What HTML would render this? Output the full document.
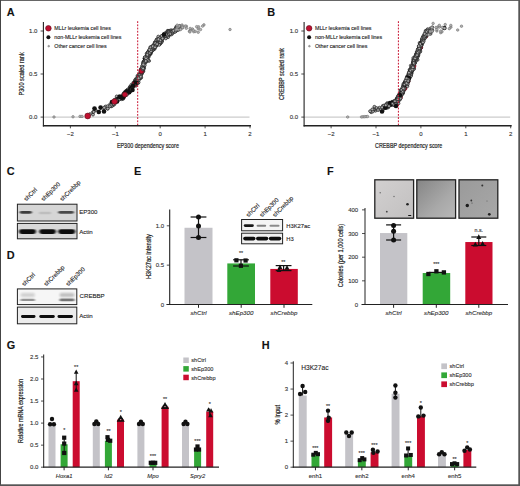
<!DOCTYPE html>
<html><head><meta charset="utf-8"><title>Figure</title>
<style>
html,body{margin:0;padding:0;background:#fff;}
body{width:520px;height:486px;overflow:hidden;font-family:'Liberation Sans', sans-serif;}
svg{display:block;}
svg text{font-family:'Liberation Sans',sans-serif;stroke:#333;stroke-width:0.12px;}
</style></head><body>
<svg width="520" height="486" viewBox="0 0 520 486">
<rect x="0" y="0" width="520" height="486" fill="#ffffff"/>
<text x="6.70" y="16.10" font-size="10.9" text-anchor="start" font-weight="bold" font-style="normal" fill="#111" >A</text>
<text x="267.20" y="16.10" font-size="10.9" text-anchor="start" font-weight="bold" font-style="normal" fill="#111" >B</text>
<text x="6.80" y="174.80" font-size="10.9" text-anchor="start" font-weight="bold" font-style="normal" fill="#111" >C</text>
<text x="6.80" y="258.70" font-size="10.9" text-anchor="start" font-weight="bold" font-style="normal" fill="#111" >D</text>
<text x="134.00" y="174.80" font-size="10.9" text-anchor="start" font-weight="bold" font-style="normal" fill="#111" >E</text>
<text x="327.00" y="174.80" font-size="10.9" text-anchor="start" font-weight="bold" font-style="normal" fill="#111" >F</text>
<text x="6.80" y="348.60" font-size="10.9" text-anchor="start" font-weight="bold" font-style="normal" fill="#111" >G</text>
<text x="261.80" y="348.60" font-size="10.9" text-anchor="start" font-weight="bold" font-style="normal" fill="#111" >H</text>
<line x1="43.40" y1="117.10" x2="249.50" y2="117.10" stroke="#b8b8b8" stroke-width="0.9" />
<g fill="#adadad" stroke="#202020" stroke-width="0.7"><circle cx="169.8" cy="33.9" r="1.45"/><circle cx="123.7" cy="93.3" r="1.45"/><circle cx="176.3" cy="26.7" r="1.45"/><circle cx="153.2" cy="48.9" r="1.45"/><circle cx="137.4" cy="82.2" r="1.45"/><circle cx="145.7" cy="59.3" r="1.45"/><circle cx="161.6" cy="39.5" r="1.45"/><circle cx="139.6" cy="75.5" r="1.45"/><circle cx="151.3" cy="50.2" r="1.45"/><circle cx="145.8" cy="57.4" r="1.45"/><circle cx="141.9" cy="73.7" r="1.45"/><circle cx="156.9" cy="44.5" r="1.45"/><circle cx="167.8" cy="30.8" r="1.45"/><circle cx="121.7" cy="99.2" r="1.45"/><circle cx="133.4" cy="82.6" r="1.45"/><circle cx="136.1" cy="83.5" r="1.45"/><circle cx="143.3" cy="66.6" r="1.45"/><circle cx="155.5" cy="43.9" r="1.45"/><circle cx="105.6" cy="106.5" r="1.45"/><circle cx="128.2" cy="92.1" r="1.45"/><circle cx="149.3" cy="50.7" r="1.45"/><circle cx="147.8" cy="54.4" r="1.45"/><circle cx="152.1" cy="48.4" r="1.45"/><circle cx="156.3" cy="45.1" r="1.45"/><circle cx="152.9" cy="46.6" r="1.45"/><circle cx="150.6" cy="52.6" r="1.45"/><circle cx="161.8" cy="36.5" r="1.45"/><circle cx="157.6" cy="41.7" r="1.45"/><circle cx="114.6" cy="99.7" r="1.45"/><circle cx="129.0" cy="90.2" r="1.45"/><circle cx="172.2" cy="32.5" r="1.45"/><circle cx="170.5" cy="30.8" r="1.45"/><circle cx="121.3" cy="97.2" r="1.45"/><circle cx="116.4" cy="101.3" r="1.45"/><circle cx="167.5" cy="34.0" r="1.45"/><circle cx="171.3" cy="31.6" r="1.45"/><circle cx="149.8" cy="49.8" r="1.45"/><circle cx="138.6" cy="79.6" r="1.45"/><circle cx="136.8" cy="81.3" r="1.45"/><circle cx="137.7" cy="81.1" r="1.45"/><circle cx="136.1" cy="83.2" r="1.45"/><circle cx="144.1" cy="63.0" r="1.45"/><circle cx="150.3" cy="50.8" r="1.45"/><circle cx="156.5" cy="42.0" r="1.45"/><circle cx="162.2" cy="38.8" r="1.45"/><circle cx="142.7" cy="67.7" r="1.45"/><circle cx="130.6" cy="89.4" r="1.45"/><circle cx="140.4" cy="72.9" r="1.45"/><circle cx="119.2" cy="97.0" r="1.45"/><circle cx="138.1" cy="78.2" r="1.45"/><circle cx="130.3" cy="86.5" r="1.45"/><circle cx="146.1" cy="58.9" r="1.45"/><circle cx="163.6" cy="36.4" r="1.45"/><circle cx="143.8" cy="61.2" r="1.45"/><circle cx="140.5" cy="77.9" r="1.45"/><circle cx="160.1" cy="38.1" r="1.45"/><circle cx="161.4" cy="37.7" r="1.45"/><circle cx="139.1" cy="74.2" r="1.45"/><circle cx="160.1" cy="38.0" r="1.45"/><circle cx="132.9" cy="85.4" r="1.45"/><circle cx="139.1" cy="77.1" r="1.45"/><circle cx="172.4" cy="31.4" r="1.45"/><circle cx="142.7" cy="68.4" r="1.45"/><circle cx="152.3" cy="46.8" r="1.45"/><circle cx="142.9" cy="68.3" r="1.45"/><circle cx="172.7" cy="31.9" r="1.45"/><circle cx="137.5" cy="75.8" r="1.45"/><circle cx="177.9" cy="29.4" r="1.45"/><circle cx="136.4" cy="84.3" r="1.45"/><circle cx="117.0" cy="100.1" r="1.45"/><circle cx="156.0" cy="42.9" r="1.45"/><circle cx="169.7" cy="32.8" r="1.45"/><circle cx="155.1" cy="42.7" r="1.45"/><circle cx="95.7" cy="110.2" r="1.45"/><circle cx="104.2" cy="107.6" r="1.45"/><circle cx="154.8" cy="44.7" r="1.45"/><circle cx="157.3" cy="39.7" r="1.45"/><circle cx="124.4" cy="93.0" r="1.45"/><circle cx="119.5" cy="97.3" r="1.45"/><circle cx="148.7" cy="51.0" r="1.45"/><circle cx="160.9" cy="39.6" r="1.45"/><circle cx="113.4" cy="104.5" r="1.45"/><circle cx="141.4" cy="73.9" r="1.45"/><circle cx="146.9" cy="58.1" r="1.45"/><circle cx="149.1" cy="60.9" r="1.45"/><circle cx="163.7" cy="36.4" r="1.45"/><circle cx="147.9" cy="56.0" r="1.45"/><circle cx="141.9" cy="71.0" r="1.45"/><circle cx="144.3" cy="64.2" r="1.45"/><circle cx="150.4" cy="52.6" r="1.45"/><circle cx="125.8" cy="93.7" r="1.45"/><circle cx="154.1" cy="49.2" r="1.45"/><circle cx="148.8" cy="56.8" r="1.45"/><circle cx="160.0" cy="39.3" r="1.45"/><circle cx="150.4" cy="50.0" r="1.45"/><circle cx="167.3" cy="31.4" r="1.45"/><circle cx="144.4" cy="62.5" r="1.45"/><circle cx="175.0" cy="29.7" r="1.45"/><circle cx="171.9" cy="31.5" r="1.45"/><circle cx="135.8" cy="84.2" r="1.45"/><circle cx="169.0" cy="33.0" r="1.45"/><circle cx="146.6" cy="53.8" r="1.45"/><circle cx="135.0" cy="80.1" r="1.45"/><circle cx="160.7" cy="37.5" r="1.45"/><circle cx="167.3" cy="32.2" r="1.45"/><circle cx="157.4" cy="43.8" r="1.45"/><circle cx="149.7" cy="52.5" r="1.45"/><circle cx="156.7" cy="40.1" r="1.45"/><circle cx="135.9" cy="78.9" r="1.45"/><circle cx="145.3" cy="61.2" r="1.45"/><circle cx="151.5" cy="51.2" r="1.45"/><circle cx="159.9" cy="39.9" r="1.45"/><circle cx="113.9" cy="103.0" r="1.45"/><circle cx="123.1" cy="98.9" r="1.45"/><circle cx="150.4" cy="49.9" r="1.45"/><circle cx="144.8" cy="58.5" r="1.45"/><circle cx="136.4" cy="79.6" r="1.45"/><circle cx="168.9" cy="35.5" r="1.45"/><circle cx="143.4" cy="71.2" r="1.45"/><circle cx="149.0" cy="52.2" r="1.45"/><circle cx="122.6" cy="97.9" r="1.45"/><circle cx="152.8" cy="50.0" r="1.45"/><circle cx="158.3" cy="41.4" r="1.45"/><circle cx="122.6" cy="95.3" r="1.45"/><circle cx="160.3" cy="43.7" r="1.45"/><circle cx="172.5" cy="32.1" r="1.45"/><circle cx="166.3" cy="35.3" r="1.45"/><circle cx="162.7" cy="37.9" r="1.45"/><circle cx="144.2" cy="61.7" r="1.45"/><circle cx="176.0" cy="29.0" r="1.45"/><circle cx="154.2" cy="44.3" r="1.45"/><circle cx="168.9" cy="34.7" r="1.45"/><circle cx="179.8" cy="28.4" r="1.45"/><circle cx="172.4" cy="33.1" r="1.45"/><circle cx="147.3" cy="57.9" r="1.45"/><circle cx="160.8" cy="39.3" r="1.45"/><circle cx="160.6" cy="39.4" r="1.45"/><circle cx="137.8" cy="81.2" r="1.45"/><circle cx="144.2" cy="62.3" r="1.45"/><circle cx="144.7" cy="60.4" r="1.45"/><circle cx="156.3" cy="43.2" r="1.45"/><circle cx="170.9" cy="33.2" r="1.45"/><circle cx="147.9" cy="54.3" r="1.45"/><circle cx="150.2" cy="49.1" r="1.45"/><circle cx="138.2" cy="83.0" r="1.45"/><circle cx="146.9" cy="56.4" r="1.45"/><circle cx="165.6" cy="33.6" r="1.45"/><circle cx="143.0" cy="62.4" r="1.45"/><circle cx="150.2" cy="48.9" r="1.45"/><circle cx="150.1" cy="50.9" r="1.45"/><circle cx="131.5" cy="87.6" r="1.45"/><circle cx="115.1" cy="100.0" r="1.45"/><circle cx="167.1" cy="34.3" r="1.45"/><circle cx="179.6" cy="25.9" r="1.45"/><circle cx="143.3" cy="64.6" r="1.45"/><circle cx="169.2" cy="31.0" r="1.45"/><circle cx="127.5" cy="92.0" r="1.45"/><circle cx="146.0" cy="60.1" r="1.45"/><circle cx="165.5" cy="36.2" r="1.45"/><circle cx="141.4" cy="71.0" r="1.45"/><circle cx="139.9" cy="75.6" r="1.45"/><circle cx="167.3" cy="36.7" r="1.45"/><circle cx="151.9" cy="49.5" r="1.45"/><circle cx="129.9" cy="89.8" r="1.45"/><circle cx="157.1" cy="41.1" r="1.45"/><circle cx="139.8" cy="77.7" r="1.45"/><circle cx="127.1" cy="92.1" r="1.45"/><circle cx="111.1" cy="106.4" r="1.45"/><circle cx="150.6" cy="50.4" r="1.45"/><circle cx="142.9" cy="69.9" r="1.45"/><circle cx="160.9" cy="38.1" r="1.45"/><circle cx="122.9" cy="97.9" r="1.45"/><circle cx="158.7" cy="39.3" r="1.45"/><circle cx="150.8" cy="53.7" r="1.45"/><circle cx="137.4" cy="81.1" r="1.45"/><circle cx="141.5" cy="69.4" r="1.45"/><circle cx="168.3" cy="32.7" r="1.45"/><circle cx="127.8" cy="89.7" r="1.45"/><circle cx="150.0" cy="53.6" r="1.45"/><circle cx="168.8" cy="33.2" r="1.45"/><circle cx="136.9" cy="81.2" r="1.45"/><circle cx="155.0" cy="42.3" r="1.45"/><circle cx="148.3" cy="53.9" r="1.45"/><circle cx="157.0" cy="39.1" r="1.45"/><circle cx="139.1" cy="77.2" r="1.45"/><circle cx="170.6" cy="33.2" r="1.45"/><circle cx="158.5" cy="40.5" r="1.45"/><circle cx="151.2" cy="51.0" r="1.45"/><circle cx="163.2" cy="35.9" r="1.45"/></g>
<circle cx="137.50" cy="80.11" r="2.3" fill="#111" stroke="none" stroke-width="0.5" />
<g fill="#adadad" stroke="#202020" stroke-width="0.7"><circle cx="160.6" cy="43.2" r="1.45"/><circle cx="122.2" cy="98.3" r="1.45"/><circle cx="122.0" cy="95.5" r="1.45"/><circle cx="117.0" cy="97.7" r="1.45"/><circle cx="155.5" cy="46.1" r="1.45"/><circle cx="135.3" cy="84.3" r="1.45"/><circle cx="140.8" cy="69.5" r="1.45"/><circle cx="162.1" cy="40.9" r="1.45"/><circle cx="158.1" cy="42.9" r="1.45"/><circle cx="157.8" cy="43.9" r="1.45"/><circle cx="135.9" cy="85.8" r="1.45"/><circle cx="150.4" cy="51.1" r="1.45"/><circle cx="170.3" cy="34.5" r="1.45"/><circle cx="160.4" cy="40.5" r="1.45"/><circle cx="119.1" cy="96.4" r="1.45"/><circle cx="171.5" cy="30.4" r="1.45"/><circle cx="143.5" cy="63.4" r="1.45"/><circle cx="167.3" cy="32.8" r="1.45"/><circle cx="140.0" cy="75.0" r="1.45"/><circle cx="141.2" cy="77.6" r="1.45"/><circle cx="116.7" cy="96.4" r="1.45"/><circle cx="149.8" cy="54.6" r="1.45"/><circle cx="131.6" cy="88.2" r="1.45"/><circle cx="122.8" cy="95.5" r="1.45"/><circle cx="151.1" cy="50.9" r="1.45"/><circle cx="158.5" cy="41.3" r="1.45"/><circle cx="136.8" cy="83.2" r="1.45"/><circle cx="140.4" cy="78.1" r="1.45"/></g>
<circle cx="140.00" cy="75.90" r="2.3" fill="#111" stroke="none" stroke-width="0.5" />
<circle cx="138.70" cy="77.91" r="2.3" fill="#111" stroke="none" stroke-width="0.5" />
<g fill="#adadad" stroke="#202020" stroke-width="0.7"><circle cx="125.4" cy="93.5" r="1.45"/><circle cx="146.7" cy="56.2" r="1.45"/><circle cx="151.9" cy="47.3" r="1.45"/><circle cx="146.5" cy="57.9" r="1.45"/><circle cx="169.1" cy="30.7" r="1.45"/><circle cx="135.5" cy="82.3" r="1.45"/><circle cx="148.6" cy="53.4" r="1.45"/><circle cx="141.5" cy="68.8" r="1.45"/><circle cx="156.1" cy="45.9" r="1.45"/><circle cx="122.7" cy="95.8" r="1.45"/><circle cx="170.1" cy="32.2" r="1.45"/><circle cx="156.2" cy="45.9" r="1.45"/><circle cx="144.5" cy="63.8" r="1.45"/><circle cx="151.2" cy="50.3" r="1.45"/><circle cx="146.1" cy="62.0" r="1.45"/><circle cx="149.8" cy="50.2" r="1.45"/><circle cx="150.2" cy="50.7" r="1.45"/><circle cx="171.6" cy="34.4" r="1.45"/><circle cx="128.4" cy="92.0" r="1.45"/><circle cx="150.7" cy="47.8" r="1.45"/><circle cx="165.3" cy="37.0" r="1.45"/><circle cx="152.9" cy="45.7" r="1.45"/><circle cx="144.2" cy="62.1" r="1.45"/><circle cx="132.4" cy="86.4" r="1.45"/><circle cx="156.0" cy="45.1" r="1.45"/><circle cx="93.0" cy="114.6" r="1.45"/><circle cx="107.6" cy="108.7" r="1.45"/><circle cx="142.6" cy="65.7" r="1.45"/><circle cx="161.7" cy="42.1" r="1.45"/><circle cx="137.6" cy="76.9" r="1.45"/><circle cx="142.4" cy="69.2" r="1.45"/><circle cx="147.6" cy="58.4" r="1.45"/><circle cx="150.7" cy="51.1" r="1.45"/><circle cx="155.0" cy="45.9" r="1.45"/><circle cx="159.5" cy="42.3" r="1.45"/><circle cx="148.9" cy="53.2" r="1.45"/><circle cx="167.9" cy="31.6" r="1.45"/><circle cx="164.2" cy="34.2" r="1.45"/><circle cx="137.6" cy="81.3" r="1.45"/><circle cx="144.9" cy="61.6" r="1.45"/><circle cx="143.9" cy="68.0" r="1.45"/><circle cx="140.2" cy="74.0" r="1.45"/><circle cx="134.2" cy="84.8" r="1.45"/><circle cx="144.1" cy="62.1" r="1.45"/><circle cx="154.7" cy="45.2" r="1.45"/><circle cx="138.5" cy="76.3" r="1.45"/><circle cx="149.3" cy="50.6" r="1.45"/><circle cx="170.6" cy="31.3" r="1.45"/><circle cx="154.8" cy="42.5" r="1.45"/><circle cx="138.9" cy="75.6" r="1.45"/><circle cx="152.6" cy="50.4" r="1.45"/><circle cx="148.8" cy="54.9" r="1.45"/><circle cx="156.5" cy="41.7" r="1.45"/><circle cx="128.9" cy="90.5" r="1.45"/><circle cx="133.6" cy="84.9" r="1.45"/><circle cx="121.8" cy="97.2" r="1.45"/><circle cx="119.6" cy="98.7" r="1.45"/><circle cx="156.4" cy="45.8" r="1.45"/><circle cx="116.6" cy="100.7" r="1.45"/><circle cx="147.7" cy="55.6" r="1.45"/><circle cx="156.8" cy="44.0" r="1.45"/><circle cx="142.8" cy="67.0" r="1.45"/><circle cx="159.2" cy="44.9" r="1.45"/><circle cx="169.0" cy="33.9" r="1.45"/><circle cx="155.7" cy="42.4" r="1.45"/><circle cx="143.6" cy="63.4" r="1.45"/><circle cx="146.9" cy="56.9" r="1.45"/></g>
<circle cx="145.00" cy="58.17" r="2.3" fill="#111" stroke="none" stroke-width="0.5" />
<g fill="#adadad" stroke="#202020" stroke-width="0.7"><circle cx="175.5" cy="30.0" r="1.45"/></g>
<circle cx="135.00" cy="82.25" r="2.3" fill="#111" stroke="none" stroke-width="0.5" />
<g fill="#adadad" stroke="#202020" stroke-width="0.7"><circle cx="144.4" cy="61.9" r="1.45"/><circle cx="166.7" cy="35.4" r="1.45"/><circle cx="160.6" cy="37.7" r="1.45"/><circle cx="170.4" cy="31.1" r="1.45"/></g>
<circle cx="141.50" cy="72.23" r="2.3" fill="#111" stroke="none" stroke-width="0.5" />
<g fill="#adadad" stroke="#202020" stroke-width="0.7"><circle cx="177.2" cy="28.2" r="1.45"/><circle cx="129.7" cy="87.2" r="1.45"/><circle cx="150.2" cy="53.6" r="1.45"/><circle cx="155.6" cy="44.3" r="1.45"/><circle cx="146.7" cy="59.6" r="1.45"/><circle cx="113.1" cy="105.3" r="1.45"/></g>
<circle cx="128.50" cy="91.51" r="2.3" fill="#111" stroke="none" stroke-width="0.5" />
<g fill="#adadad" stroke="#202020" stroke-width="0.7"><circle cx="168.5" cy="32.3" r="1.45"/><circle cx="113.3" cy="104.3" r="1.45"/><circle cx="168.1" cy="37.2" r="1.45"/><circle cx="165.4" cy="37.0" r="1.45"/><circle cx="172.9" cy="30.5" r="1.45"/><circle cx="126.0" cy="95.0" r="1.45"/></g>
<circle cx="125.50" cy="92.33" r="2.3" fill="#111" stroke="none" stroke-width="0.5" />
<g fill="#adadad" stroke="#202020" stroke-width="0.7"><circle cx="155.5" cy="44.6" r="1.45"/><circle cx="110.1" cy="104.3" r="1.45"/><circle cx="146.8" cy="55.9" r="1.45"/><circle cx="119.3" cy="99.1" r="1.45"/><circle cx="166.3" cy="37.2" r="1.45"/><circle cx="111.9" cy="106.0" r="1.45"/></g>
<circle cx="104.00" cy="111.40" r="2.3" fill="#111" stroke="none" stroke-width="0.5" />
<g fill="#adadad" stroke="#202020" stroke-width="0.7"><circle cx="144.1" cy="68.3" r="1.45"/><circle cx="164.6" cy="37.3" r="1.45"/><circle cx="145.8" cy="59.7" r="1.45"/><circle cx="154.9" cy="48.5" r="1.45"/><circle cx="151.7" cy="50.7" r="1.45"/><circle cx="178.3" cy="29.2" r="1.45"/><circle cx="89.9" cy="114.1" r="1.45"/><circle cx="117.3" cy="101.1" r="1.45"/><circle cx="143.4" cy="69.8" r="1.45"/><circle cx="141.5" cy="72.5" r="1.45"/><circle cx="155.4" cy="43.4" r="1.45"/><circle cx="160.5" cy="40.7" r="1.45"/><circle cx="137.6" cy="81.9" r="1.45"/><circle cx="169.9" cy="34.1" r="1.45"/></g>
<circle cx="134.00" cy="83.98" r="2.3" fill="#111" stroke="none" stroke-width="0.5" />
<g fill="#adadad" stroke="#202020" stroke-width="0.7"><circle cx="127.3" cy="90.0" r="1.45"/><circle cx="131.6" cy="86.6" r="1.45"/></g>
<circle cx="98.80" cy="112.00" r="2.3" fill="#111" stroke="none" stroke-width="0.5" />
<g fill="#adadad" stroke="#202020" stroke-width="0.7"><circle cx="160.2" cy="42.5" r="1.45"/><circle cx="137.2" cy="82.1" r="1.45"/><circle cx="145.4" cy="57.2" r="1.45"/><circle cx="151.3" cy="52.0" r="1.45"/><circle cx="147.7" cy="52.6" r="1.45"/></g>
<circle cx="127.50" cy="92.88" r="2.3" fill="#111" stroke="none" stroke-width="0.5" />
<g fill="#adadad" stroke="#202020" stroke-width="0.7"><circle cx="155.4" cy="45.2" r="1.45"/><circle cx="120.1" cy="98.7" r="1.45"/><circle cx="128.4" cy="89.2" r="1.45"/><circle cx="167.5" cy="34.8" r="1.45"/><circle cx="141.6" cy="71.6" r="1.45"/><circle cx="147.8" cy="53.6" r="1.45"/><circle cx="122.0" cy="96.8" r="1.45"/><circle cx="150.6" cy="51.4" r="1.45"/><circle cx="153.7" cy="44.9" r="1.45"/><circle cx="132.7" cy="87.7" r="1.45"/><circle cx="162.5" cy="36.1" r="1.45"/><circle cx="166.3" cy="33.4" r="1.45"/><circle cx="149.3" cy="51.4" r="1.45"/><circle cx="175.7" cy="28.2" r="1.45"/><circle cx="140.1" cy="75.0" r="1.45"/><circle cx="154.0" cy="46.7" r="1.45"/><circle cx="170.8" cy="30.5" r="1.45"/><circle cx="158.3" cy="41.8" r="1.45"/><circle cx="155.2" cy="44.2" r="1.45"/><circle cx="161.0" cy="39.5" r="1.45"/><circle cx="152.2" cy="46.6" r="1.45"/><circle cx="149.4" cy="52.6" r="1.45"/><circle cx="155.3" cy="44.8" r="1.45"/></g>
<circle cx="122.00" cy="97.49" r="2.3" fill="#111" stroke="none" stroke-width="0.5" />
<g fill="#adadad" stroke="#202020" stroke-width="0.7"><circle cx="138.6" cy="78.3" r="1.45"/></g>
<circle cx="118.00" cy="98.96" r="2.3" fill="#111" stroke="none" stroke-width="0.5" />
<g fill="#adadad" stroke="#202020" stroke-width="0.7"><circle cx="165.0" cy="36.6" r="1.45"/><circle cx="148.1" cy="60.4" r="1.45"/><circle cx="140.4" cy="75.5" r="1.45"/><circle cx="167.0" cy="33.3" r="1.45"/><circle cx="153.9" cy="47.6" r="1.45"/><circle cx="124.3" cy="94.5" r="1.45"/><circle cx="166.4" cy="34.8" r="1.45"/><circle cx="144.3" cy="63.4" r="1.45"/><circle cx="140.6" cy="74.6" r="1.45"/><circle cx="173.3" cy="32.2" r="1.45"/><circle cx="135.3" cy="83.2" r="1.45"/><circle cx="170.2" cy="31.2" r="1.45"/><circle cx="175.9" cy="31.1" r="1.45"/><circle cx="141.1" cy="72.2" r="1.45"/><circle cx="153.0" cy="48.5" r="1.45"/><circle cx="143.7" cy="65.4" r="1.45"/><circle cx="148.2" cy="55.4" r="1.45"/></g>
<circle cx="131.80" cy="87.00" r="2.3" fill="#111" stroke="none" stroke-width="0.5" />
<g fill="#adadad" stroke="#202020" stroke-width="0.7"><circle cx="133.2" cy="84.1" r="1.45"/><circle cx="133.8" cy="83.6" r="1.45"/><circle cx="160.7" cy="40.5" r="1.45"/><circle cx="156.9" cy="41.1" r="1.45"/></g>
<circle cx="112.00" cy="101.99" r="2.3" fill="#111" stroke="none" stroke-width="0.5" />
<g fill="#adadad" stroke="#202020" stroke-width="0.7"><circle cx="137.7" cy="78.5" r="1.45"/><circle cx="138.6" cy="82.3" r="1.45"/><circle cx="148.2" cy="56.3" r="1.45"/><circle cx="165.8" cy="38.4" r="1.45"/><circle cx="144.3" cy="62.6" r="1.45"/><circle cx="161.2" cy="40.9" r="1.45"/></g>
<circle cx="136.50" cy="82.01" r="2.3" fill="#111" stroke="none" stroke-width="0.5" />
<g fill="#adadad" stroke="#202020" stroke-width="0.7"><circle cx="130.6" cy="90.7" r="1.45"/><circle cx="164.9" cy="33.3" r="1.45"/><circle cx="93.0" cy="112.1" r="1.45"/><circle cx="140.8" cy="75.6" r="1.45"/><circle cx="142.8" cy="68.2" r="1.45"/><circle cx="163.5" cy="36.7" r="1.45"/><circle cx="173.7" cy="31.1" r="1.45"/><circle cx="132.9" cy="85.9" r="1.45"/><circle cx="145.3" cy="62.2" r="1.45"/><circle cx="133.2" cy="86.5" r="1.45"/><circle cx="143.6" cy="66.5" r="1.45"/><circle cx="152.8" cy="46.5" r="1.45"/><circle cx="168.3" cy="31.7" r="1.45"/><circle cx="141.5" cy="68.2" r="1.45"/><circle cx="152.1" cy="48.2" r="1.45"/><circle cx="170.5" cy="32.2" r="1.45"/><circle cx="131.0" cy="90.6" r="1.45"/><circle cx="163.6" cy="35.8" r="1.45"/></g>
<circle cx="150.00" cy="52.41" r="2.3" fill="#111" stroke="none" stroke-width="0.5" />
<g fill="#adadad" stroke="#202020" stroke-width="0.7"><circle cx="139.2" cy="75.3" r="1.45"/><circle cx="154.3" cy="47.7" r="1.45"/><circle cx="147.2" cy="57.1" r="1.45"/></g>
<circle cx="129.20" cy="92.13" r="2.3" fill="#111" stroke="none" stroke-width="0.5" />
<g fill="#adadad" stroke="#202020" stroke-width="0.7"><circle cx="152.0" cy="48.0" r="1.45"/><circle cx="167.9" cy="32.8" r="1.45"/><circle cx="147.3" cy="54.6" r="1.45"/><circle cx="151.2" cy="49.6" r="1.45"/><circle cx="144.6" cy="62.0" r="1.45"/></g>
<circle cx="116.00" cy="101.36" r="2.3" fill="#111" stroke="none" stroke-width="0.5" />
<circle cx="143.00" cy="66.77" r="2.3" fill="#111" stroke="none" stroke-width="0.5" />
<g fill="#adadad" stroke="#202020" stroke-width="0.7"><circle cx="154.2" cy="46.8" r="1.45"/><circle cx="166.3" cy="34.2" r="1.45"/><circle cx="140.6" cy="70.9" r="1.45"/><circle cx="119.4" cy="99.4" r="1.45"/></g>
<circle cx="130.00" cy="90.56" r="2.3" fill="#111" stroke="none" stroke-width="0.5" />
<g fill="#adadad" stroke="#202020" stroke-width="0.7"><circle cx="156.3" cy="40.2" r="1.45"/><circle cx="170.5" cy="32.3" r="1.45"/><circle cx="142.7" cy="72.0" r="1.45"/></g>
<circle cx="139.00" cy="77.66" r="2.3" fill="#111" stroke="none" stroke-width="0.5" />
<g fill="#adadad" stroke="#202020" stroke-width="0.7"><circle cx="137.7" cy="80.0" r="1.45"/><circle cx="180.1" cy="28.5" r="1.45"/><circle cx="161.3" cy="41.2" r="1.45"/><circle cx="138.1" cy="80.1" r="1.45"/><circle cx="116.7" cy="100.2" r="1.45"/><circle cx="150.4" cy="47.1" r="1.45"/></g>
<circle cx="121.00" cy="97.49" r="2.3" fill="#111" stroke="none" stroke-width="0.5" />
<circle cx="126.60" cy="91.20" r="2.3" fill="#111" stroke="none" stroke-width="0.5" />
<g fill="#adadad" stroke="#202020" stroke-width="0.7"><circle cx="123.0" cy="97.4" r="1.45"/><circle cx="169.3" cy="32.6" r="1.45"/><circle cx="156.0" cy="45.0" r="1.45"/><circle cx="169.0" cy="32.3" r="1.45"/></g>
<circle cx="130.50" cy="88.61" r="2.3" fill="#111" stroke="none" stroke-width="0.5" />
<g fill="#adadad" stroke="#202020" stroke-width="0.7"><circle cx="170.4" cy="32.6" r="1.45"/><circle cx="137.4" cy="79.7" r="1.45"/><circle cx="175.1" cy="29.4" r="1.45"/><circle cx="147.4" cy="53.2" r="1.45"/><circle cx="160.9" cy="41.3" r="1.45"/><circle cx="158.3" cy="36.6" r="1.45"/><circle cx="116.4" cy="101.2" r="1.45"/><circle cx="168.7" cy="34.4" r="1.45"/><circle cx="93.7" cy="111.9" r="1.45"/><circle cx="147.9" cy="52.1" r="1.45"/><circle cx="176.0" cy="30.7" r="1.45"/><circle cx="126.9" cy="94.8" r="1.45"/><circle cx="142.5" cy="71.0" r="1.45"/><circle cx="132.8" cy="86.6" r="1.45"/><circle cx="153.6" cy="48.0" r="1.45"/><circle cx="148.6" cy="53.3" r="1.45"/><circle cx="148.4" cy="55.1" r="1.45"/><circle cx="160.9" cy="40.4" r="1.45"/></g>
<circle cx="141.30" cy="71.00" r="2.5" fill="#bf1030" stroke="#5c0b19" stroke-width="0.6" />
<g fill="#adadad" stroke="#202020" stroke-width="0.7"><circle cx="143.4" cy="63.5" r="1.45"/></g>
<circle cx="134.40" cy="84.30" r="2.5" fill="#bf1030" stroke="#5c0b19" stroke-width="0.6" />
<g fill="#adadad" stroke="#202020" stroke-width="0.7"><circle cx="136.0" cy="81.0" r="1.45"/><circle cx="142.2" cy="66.1" r="1.45"/><circle cx="157.6" cy="42.1" r="1.45"/><circle cx="165.8" cy="34.1" r="1.45"/><circle cx="170.4" cy="33.8" r="1.45"/><circle cx="161.9" cy="36.6" r="1.45"/><circle cx="147.4" cy="59.1" r="1.45"/><circle cx="131.5" cy="89.8" r="1.45"/><circle cx="157.8" cy="42.6" r="1.45"/><circle cx="149.2" cy="53.0" r="1.45"/><circle cx="164.6" cy="36.1" r="1.45"/><circle cx="158.7" cy="41.5" r="1.45"/></g>
<circle cx="117.00" cy="101.54" r="2.3" fill="#111" stroke="none" stroke-width="0.5" />
<circle cx="94.50" cy="108.60" r="2.3" fill="#111" stroke="none" stroke-width="0.5" />
<g fill="#adadad" stroke="#202020" stroke-width="0.7"><circle cx="149.2" cy="53.4" r="1.45"/><circle cx="147.2" cy="56.8" r="1.45"/><circle cx="150.6" cy="47.5" r="1.45"/><circle cx="146.6" cy="57.4" r="1.45"/><circle cx="176.9" cy="27.2" r="1.45"/></g>
<circle cx="119.70" cy="96.77" r="2.3" fill="#111" stroke="none" stroke-width="0.5" />
<g fill="#adadad" stroke="#202020" stroke-width="0.7"><circle cx="166.8" cy="35.7" r="1.45"/><circle cx="177.6" cy="29.9" r="1.45"/><circle cx="142.1" cy="67.9" r="1.45"/><circle cx="116.4" cy="100.8" r="1.45"/><circle cx="161.7" cy="38.5" r="1.45"/><circle cx="159.4" cy="39.9" r="1.45"/><circle cx="158.5" cy="40.7" r="1.45"/><circle cx="155.3" cy="43.3" r="1.45"/><circle cx="135.5" cy="83.9" r="1.45"/><circle cx="131.4" cy="84.8" r="1.45"/><circle cx="139.7" cy="78.2" r="1.45"/><circle cx="147.9" cy="53.1" r="1.45"/><circle cx="165.3" cy="35.7" r="1.45"/></g>
<circle cx="133.00" cy="85.69" r="2.3" fill="#111" stroke="none" stroke-width="0.5" />
<g fill="#adadad" stroke="#202020" stroke-width="0.7"><circle cx="160.3" cy="39.0" r="1.45"/></g>
<circle cx="123.50" cy="97.23" r="2.3" fill="#111" stroke="none" stroke-width="0.5" />
<g fill="#adadad" stroke="#202020" stroke-width="0.7"><circle cx="152.8" cy="47.3" r="1.45"/><circle cx="138.8" cy="80.1" r="1.45"/></g>
<circle cx="124.90" cy="94.60" r="2.5" fill="#bf1030" stroke="#5c0b19" stroke-width="0.6" />
<g fill="#adadad" stroke="#202020" stroke-width="0.7"><circle cx="161.5" cy="36.0" r="1.45"/><circle cx="157.4" cy="39.8" r="1.45"/><circle cx="166.0" cy="34.5" r="1.45"/><circle cx="111.0" cy="105.1" r="1.45"/><circle cx="142.8" cy="69.4" r="1.45"/><circle cx="159.7" cy="38.2" r="1.45"/><circle cx="109.7" cy="106.3" r="1.45"/><circle cx="137.2" cy="80.5" r="1.45"/><circle cx="107.5" cy="106.2" r="1.45"/></g>
<circle cx="100.60" cy="107.60" r="2.3" fill="#111" stroke="none" stroke-width="0.5" />
<g fill="#adadad" stroke="#202020" stroke-width="0.7"><circle cx="174.8" cy="32.0" r="1.45"/><circle cx="172.5" cy="32.9" r="1.45"/><circle cx="160.1" cy="40.3" r="1.45"/><circle cx="160.0" cy="42.0" r="1.45"/><circle cx="144.7" cy="65.3" r="1.45"/><circle cx="172.6" cy="31.7" r="1.45"/><circle cx="162.5" cy="38.5" r="1.45"/><circle cx="149.9" cy="52.9" r="1.45"/><circle cx="115.3" cy="101.8" r="1.45"/><circle cx="152.8" cy="46.2" r="1.45"/><circle cx="158.9" cy="39.8" r="1.45"/><circle cx="144.9" cy="57.3" r="1.45"/><circle cx="157.1" cy="44.1" r="1.45"/></g>
<circle cx="164.00" cy="34.51" r="2.3" fill="#111" stroke="none" stroke-width="0.5" />
<g fill="#adadad" stroke="#202020" stroke-width="0.7"><circle cx="138.3" cy="77.8" r="1.45"/><circle cx="178.7" cy="29.7" r="1.45"/><circle cx="146.0" cy="58.4" r="1.45"/><circle cx="150.9" cy="51.4" r="1.45"/></g>
<circle cx="132.50" cy="89.95" r="2.3" fill="#111" stroke="none" stroke-width="0.5" />
<g fill="#adadad" stroke="#202020" stroke-width="0.7"><circle cx="172.6" cy="31.4" r="1.45"/><circle cx="137.9" cy="77.2" r="1.45"/><circle cx="149.4" cy="49.8" r="1.45"/><circle cx="143.1" cy="68.4" r="1.45"/><circle cx="160.3" cy="40.2" r="1.45"/><circle cx="147.3" cy="54.8" r="1.45"/></g>
<circle cx="136.00" cy="82.58" r="2.3" fill="#111" stroke="none" stroke-width="0.5" />
<g fill="#adadad" stroke="#202020" stroke-width="0.7"><circle cx="155.0" cy="47.3" r="1.45"/><circle cx="158.5" cy="39.2" r="1.45"/><circle cx="114.5" cy="104.3" r="1.45"/><circle cx="145.8" cy="61.0" r="1.45"/><circle cx="173.5" cy="30.8" r="1.45"/><circle cx="107.7" cy="108.6" r="1.45"/><circle cx="143.3" cy="64.5" r="1.45"/><circle cx="137.7" cy="78.5" r="1.45"/><circle cx="140.7" cy="76.8" r="1.45"/><circle cx="138.6" cy="78.3" r="1.45"/><circle cx="113.6" cy="103.9" r="1.45"/></g>
<circle cx="87.70" cy="116.00" r="2.9" fill="#bf1030" stroke="#5c0b19" stroke-width="0.6" />
<circle cx="114.50" cy="101.50" r="2.8" fill="#bf1030" stroke="#5c0b19" stroke-width="0.6" />
<circle cx="54.00" cy="117.00" r="1.25" fill="#b5b5b5" stroke="#666" stroke-width="0.55" />
<circle cx="73.00" cy="116.80" r="1.25" fill="#b5b5b5" stroke="#666" stroke-width="0.55" />
<circle cx="80.00" cy="116.40" r="1.25" fill="#b5b5b5" stroke="#666" stroke-width="0.55" />
<circle cx="82.00" cy="116.40" r="1.25" fill="#b5b5b5" stroke="#666" stroke-width="0.55" />
<circle cx="230.00" cy="29.50" r="1.25" fill="#b5b5b5" stroke="#666" stroke-width="0.55" />
<circle cx="180.62" cy="29.57" r="1.25" fill="#b5b5b5" stroke="#666" stroke-width="0.55" />
<circle cx="195.31" cy="31.42" r="1.25" fill="#b5b5b5" stroke="#666" stroke-width="0.55" />
<circle cx="193.78" cy="31.77" r="1.25" fill="#b5b5b5" stroke="#666" stroke-width="0.55" />
<circle cx="189.41" cy="31.29" r="1.25" fill="#b5b5b5" stroke="#666" stroke-width="0.55" />
<circle cx="182.05" cy="24.99" r="1.25" fill="#b5b5b5" stroke="#666" stroke-width="0.55" />
<circle cx="198.19" cy="28.84" r="1.25" fill="#b5b5b5" stroke="#666" stroke-width="0.55" />
<circle cx="198.62" cy="26.80" r="1.25" fill="#b5b5b5" stroke="#666" stroke-width="0.55" />
<circle cx="190.35" cy="30.21" r="1.25" fill="#b5b5b5" stroke="#666" stroke-width="0.55" />
<circle cx="190.14" cy="28.45" r="1.25" fill="#b5b5b5" stroke="#666" stroke-width="0.55" />
<circle cx="182.61" cy="27.89" r="1.25" fill="#b5b5b5" stroke="#666" stroke-width="0.55" />
<circle cx="176.09" cy="29.84" r="1.25" fill="#b5b5b5" stroke="#666" stroke-width="0.55" />
<circle cx="186.39" cy="26.20" r="1.25" fill="#b5b5b5" stroke="#666" stroke-width="0.55" />
<circle cx="192.39" cy="28.92" r="1.25" fill="#b5b5b5" stroke="#666" stroke-width="0.55" />
<circle cx="177.94" cy="26.95" r="1.25" fill="#b5b5b5" stroke="#666" stroke-width="0.55" />
<circle cx="198.23" cy="32.25" r="1.25" fill="#b5b5b5" stroke="#666" stroke-width="0.55" />
<circle cx="182.50" cy="26.56" r="1.25" fill="#b5b5b5" stroke="#666" stroke-width="0.55" />
<circle cx="182.52" cy="27.49" r="1.25" fill="#b5b5b5" stroke="#666" stroke-width="0.55" />
<circle cx="177.19" cy="25.13" r="1.25" fill="#b5b5b5" stroke="#666" stroke-width="0.55" />
<circle cx="203.93" cy="24.87" r="1.25" fill="#b5b5b5" stroke="#666" stroke-width="0.55" />
<circle cx="196.68" cy="26.66" r="1.25" fill="#b5b5b5" stroke="#666" stroke-width="0.55" />
<circle cx="200.50" cy="29.54" r="1.25" fill="#b5b5b5" stroke="#666" stroke-width="0.55" />
<circle cx="193.24" cy="30.16" r="1.25" fill="#b5b5b5" stroke="#666" stroke-width="0.55" />
<circle cx="176.95" cy="29.22" r="1.25" fill="#b5b5b5" stroke="#666" stroke-width="0.55" />
<circle cx="185.21" cy="26.06" r="1.25" fill="#b5b5b5" stroke="#666" stroke-width="0.55" />
<circle cx="189.93" cy="31.89" r="1.25" fill="#b5b5b5" stroke="#666" stroke-width="0.55" />
<circle cx="179.24" cy="25.95" r="1.25" fill="#b5b5b5" stroke="#666" stroke-width="0.55" />
<circle cx="202.65" cy="26.12" r="1.25" fill="#b5b5b5" stroke="#666" stroke-width="0.55" />
<circle cx="186.32" cy="28.30" r="1.25" fill="#b5b5b5" stroke="#666" stroke-width="0.55" />
<line x1="137.70" y1="21.20" x2="137.70" y2="125.00" stroke="#c8102e" stroke-width="1" stroke-dasharray="1.8,1.4"/>
<line x1="43.40" y1="22.00" x2="43.40" y2="126.50" stroke="#222" stroke-width="1.1" />
<line x1="42.90" y1="125.80" x2="251.00" y2="125.80" stroke="#222" stroke-width="1.4" />
<line x1="40.60" y1="31.00" x2="43.40" y2="31.00" stroke="#222" stroke-width="0.8" />
<text x="37.40" y="33.20" font-size="6" text-anchor="end" font-weight="normal" font-style="normal" fill="#333" >1.0</text>
<line x1="40.60" y1="74.00" x2="43.40" y2="74.00" stroke="#222" stroke-width="0.8" />
<text x="37.40" y="76.20" font-size="6" text-anchor="end" font-weight="normal" font-style="normal" fill="#333" >0.5</text>
<line x1="40.60" y1="117.10" x2="43.40" y2="117.10" stroke="#222" stroke-width="0.8" />
<text x="37.40" y="119.30" font-size="6" text-anchor="end" font-weight="normal" font-style="normal" fill="#333" >0.0</text>
<line x1="70.40" y1="125.80" x2="70.40" y2="128.30" stroke="#222" stroke-width="0.8" />
<text x="70.40" y="135.80" font-size="6" text-anchor="middle" font-weight="normal" font-style="normal" fill="#333" >−2</text>
<line x1="115.30" y1="125.80" x2="115.30" y2="128.30" stroke="#222" stroke-width="0.8" />
<text x="115.30" y="135.80" font-size="6" text-anchor="middle" font-weight="normal" font-style="normal" fill="#333" >−1</text>
<line x1="160.20" y1="125.80" x2="160.20" y2="128.30" stroke="#222" stroke-width="0.8" />
<text x="160.20" y="135.80" font-size="6" text-anchor="middle" font-weight="normal" font-style="normal" fill="#333" >0</text>
<line x1="205.10" y1="125.80" x2="205.10" y2="128.30" stroke="#222" stroke-width="0.8" />
<text x="205.10" y="135.80" font-size="6" text-anchor="middle" font-weight="normal" font-style="normal" fill="#333" >1</text>
<line x1="250.00" y1="125.80" x2="250.00" y2="128.30" stroke="#222" stroke-width="0.8" />
<text x="250.00" y="135.80" font-size="6" text-anchor="middle" font-weight="normal" font-style="normal" fill="#333" >2</text>
<text x="147.90" y="147.80" font-size="8" text-anchor="middle" font-weight="normal" font-style="normal" fill="#222" style="stroke:#222;stroke-width:0.22px" textLength="62" lengthAdjust="spacingAndGlyphs">EP300 dependency score</text>
<text x="0" y="0" transform="translate(23.50,73.90) rotate(-90)" font-size="8" text-anchor="middle" font-weight="normal" font-style="normal" fill="#222" style="stroke:#222;stroke-width:0.22px" textLength="43.3" lengthAdjust="spacingAndGlyphs">P300 scaled rank</text>
<circle cx="48.40" cy="28.30" r="2.8" fill="#bf1030" stroke="#5c0b19" stroke-width="0.6" />
<circle cx="48.40" cy="37.20" r="2.0" fill="#111" stroke="none" stroke-width="0.5" />
<circle cx="48.70" cy="46.20" r="0.9" fill="#aaa" stroke="#666" stroke-width="0.4" />
<text x="54.30" y="30.20" font-size="5.3" text-anchor="start" font-weight="normal" font-style="normal" fill="#111" >MLLr leukemia cell lines</text>
<text x="54.30" y="39.20" font-size="5.3" text-anchor="start" font-weight="normal" font-style="normal" fill="#111" >non-MLLr leukemia cell lines</text>
<text x="54.30" y="48.20" font-size="5.3" text-anchor="start" font-weight="normal" font-style="normal" fill="#111" >Other cancer cell lines</text>
<line x1="304.10" y1="117.10" x2="510.20" y2="117.10" stroke="#b8b8b8" stroke-width="0.9" />
<g fill="#adadad" stroke="#202020" stroke-width="0.7"><circle cx="404.0" cy="84.6" r="1.45"/><circle cx="413.7" cy="61.0" r="1.45"/><circle cx="417.6" cy="56.0" r="1.45"/><circle cx="402.3" cy="88.5" r="1.45"/><circle cx="400.6" cy="93.4" r="1.45"/><circle cx="405.9" cy="85.0" r="1.45"/><circle cx="417.8" cy="53.7" r="1.45"/><circle cx="408.9" cy="81.0" r="1.45"/><circle cx="409.4" cy="72.2" r="1.45"/><circle cx="406.0" cy="82.8" r="1.45"/><circle cx="382.6" cy="110.6" r="1.45"/><circle cx="417.2" cy="53.3" r="1.45"/><circle cx="411.3" cy="69.6" r="1.45"/><circle cx="415.8" cy="57.5" r="1.45"/><circle cx="426.4" cy="32.2" r="1.45"/><circle cx="387.9" cy="106.0" r="1.45"/><circle cx="417.7" cy="50.0" r="1.45"/><circle cx="408.3" cy="78.8" r="1.45"/><circle cx="396.1" cy="103.1" r="1.45"/><circle cx="408.0" cy="77.4" r="1.45"/><circle cx="385.5" cy="105.1" r="1.45"/><circle cx="415.5" cy="55.7" r="1.45"/><circle cx="416.3" cy="57.9" r="1.45"/><circle cx="394.9" cy="102.5" r="1.45"/><circle cx="379.5" cy="107.7" r="1.45"/><circle cx="397.9" cy="102.1" r="1.45"/><circle cx="391.6" cy="105.0" r="1.45"/><circle cx="404.8" cy="87.9" r="1.45"/><circle cx="404.5" cy="87.4" r="1.45"/><circle cx="402.6" cy="89.6" r="1.45"/><circle cx="418.6" cy="48.3" r="1.45"/><circle cx="417.1" cy="53.9" r="1.45"/><circle cx="407.8" cy="76.0" r="1.45"/><circle cx="416.5" cy="56.1" r="1.45"/><circle cx="397.1" cy="99.0" r="1.45"/><circle cx="411.4" cy="70.4" r="1.45"/><circle cx="418.1" cy="49.5" r="1.45"/><circle cx="405.1" cy="81.6" r="1.45"/><circle cx="411.6" cy="72.8" r="1.45"/><circle cx="421.7" cy="41.7" r="1.45"/><circle cx="412.0" cy="70.4" r="1.45"/><circle cx="424.7" cy="36.6" r="1.45"/><circle cx="421.6" cy="44.7" r="1.45"/><circle cx="401.7" cy="90.5" r="1.45"/><circle cx="397.1" cy="101.6" r="1.45"/><circle cx="408.3" cy="77.6" r="1.45"/><circle cx="418.9" cy="52.4" r="1.45"/><circle cx="403.5" cy="88.5" r="1.45"/><circle cx="419.6" cy="46.5" r="1.45"/><circle cx="407.8" cy="80.2" r="1.45"/><circle cx="408.8" cy="76.9" r="1.45"/><circle cx="406.9" cy="82.0" r="1.45"/><circle cx="407.5" cy="76.8" r="1.45"/><circle cx="388.3" cy="107.4" r="1.45"/><circle cx="397.7" cy="100.2" r="1.45"/><circle cx="426.4" cy="32.2" r="1.45"/><circle cx="400.1" cy="96.9" r="1.45"/><circle cx="428.0" cy="32.1" r="1.45"/><circle cx="416.3" cy="56.2" r="1.45"/><circle cx="374.4" cy="106.8" r="1.45"/><circle cx="417.2" cy="52.5" r="1.45"/><circle cx="412.7" cy="70.2" r="1.45"/><circle cx="419.7" cy="48.5" r="1.45"/><circle cx="413.1" cy="59.9" r="1.45"/><circle cx="415.8" cy="56.4" r="1.45"/><circle cx="418.3" cy="54.0" r="1.45"/><circle cx="400.7" cy="90.4" r="1.45"/><circle cx="408.9" cy="76.2" r="1.45"/><circle cx="408.4" cy="77.4" r="1.45"/><circle cx="417.7" cy="55.1" r="1.45"/><circle cx="395.6" cy="101.7" r="1.45"/><circle cx="412.3" cy="67.1" r="1.45"/><circle cx="409.0" cy="74.1" r="1.45"/><circle cx="422.4" cy="43.3" r="1.45"/><circle cx="422.7" cy="40.5" r="1.45"/><circle cx="410.5" cy="74.1" r="1.45"/><circle cx="389.4" cy="105.1" r="1.45"/><circle cx="375.5" cy="110.7" r="1.45"/><circle cx="403.0" cy="87.0" r="1.45"/><circle cx="425.0" cy="33.6" r="1.45"/><circle cx="406.2" cy="84.1" r="1.45"/><circle cx="406.0" cy="81.0" r="1.45"/><circle cx="421.9" cy="41.3" r="1.45"/><circle cx="415.0" cy="59.0" r="1.45"/><circle cx="387.7" cy="105.8" r="1.45"/><circle cx="409.0" cy="74.8" r="1.45"/><circle cx="411.2" cy="70.8" r="1.45"/><circle cx="425.0" cy="34.5" r="1.45"/><circle cx="399.7" cy="95.4" r="1.45"/><circle cx="403.4" cy="89.6" r="1.45"/><circle cx="399.9" cy="96.9" r="1.45"/><circle cx="422.9" cy="39.3" r="1.45"/><circle cx="396.0" cy="100.0" r="1.45"/><circle cx="396.9" cy="98.0" r="1.45"/><circle cx="422.0" cy="42.9" r="1.45"/><circle cx="383.9" cy="106.5" r="1.45"/><circle cx="408.8" cy="74.6" r="1.45"/><circle cx="419.2" cy="50.2" r="1.45"/><circle cx="406.5" cy="82.4" r="1.45"/><circle cx="399.0" cy="98.2" r="1.45"/><circle cx="403.3" cy="88.1" r="1.45"/><circle cx="415.4" cy="59.5" r="1.45"/><circle cx="408.4" cy="75.8" r="1.45"/><circle cx="418.2" cy="49.2" r="1.45"/><circle cx="402.8" cy="92.4" r="1.45"/><circle cx="422.6" cy="39.1" r="1.45"/><circle cx="390.5" cy="103.7" r="1.45"/><circle cx="423.0" cy="37.0" r="1.45"/><circle cx="407.8" cy="79.5" r="1.45"/><circle cx="418.7" cy="49.6" r="1.45"/><circle cx="410.9" cy="72.5" r="1.45"/><circle cx="417.6" cy="59.8" r="1.45"/><circle cx="414.2" cy="61.7" r="1.45"/><circle cx="413.2" cy="64.0" r="1.45"/><circle cx="417.5" cy="51.6" r="1.45"/><circle cx="411.9" cy="67.3" r="1.45"/><circle cx="399.7" cy="95.3" r="1.45"/><circle cx="427.8" cy="32.4" r="1.45"/><circle cx="432.4" cy="30.3" r="1.45"/><circle cx="394.5" cy="101.3" r="1.45"/><circle cx="399.5" cy="97.9" r="1.45"/><circle cx="403.9" cy="87.2" r="1.45"/><circle cx="419.1" cy="48.2" r="1.45"/><circle cx="413.1" cy="65.1" r="1.45"/><circle cx="405.6" cy="84.5" r="1.45"/><circle cx="406.7" cy="82.1" r="1.45"/><circle cx="419.6" cy="42.9" r="1.45"/><circle cx="422.6" cy="40.3" r="1.45"/><circle cx="416.8" cy="56.5" r="1.45"/><circle cx="403.4" cy="84.0" r="1.45"/><circle cx="418.6" cy="50.4" r="1.45"/><circle cx="410.9" cy="74.2" r="1.45"/><circle cx="418.6" cy="50.5" r="1.45"/><circle cx="421.9" cy="39.6" r="1.45"/><circle cx="415.2" cy="56.8" r="1.45"/><circle cx="398.5" cy="96.0" r="1.45"/><circle cx="406.6" cy="78.2" r="1.45"/><circle cx="426.3" cy="35.9" r="1.45"/><circle cx="407.3" cy="82.0" r="1.45"/><circle cx="411.6" cy="69.3" r="1.45"/><circle cx="415.4" cy="59.6" r="1.45"/><circle cx="411.9" cy="67.7" r="1.45"/><circle cx="417.3" cy="52.9" r="1.45"/><circle cx="394.7" cy="101.1" r="1.45"/><circle cx="408.8" cy="76.3" r="1.45"/><circle cx="401.5" cy="92.5" r="1.45"/><circle cx="411.8" cy="67.2" r="1.45"/><circle cx="407.8" cy="79.9" r="1.45"/><circle cx="425.8" cy="30.8" r="1.45"/><circle cx="402.3" cy="90.0" r="1.45"/><circle cx="425.4" cy="33.5" r="1.45"/><circle cx="417.8" cy="51.6" r="1.45"/><circle cx="418.5" cy="54.9" r="1.45"/><circle cx="411.4" cy="69.1" r="1.45"/><circle cx="409.9" cy="70.2" r="1.45"/><circle cx="411.7" cy="66.5" r="1.45"/><circle cx="410.4" cy="70.7" r="1.45"/><circle cx="410.0" cy="74.6" r="1.45"/><circle cx="414.2" cy="60.1" r="1.45"/><circle cx="425.4" cy="36.5" r="1.45"/><circle cx="412.8" cy="69.1" r="1.45"/><circle cx="412.6" cy="67.1" r="1.45"/><circle cx="425.4" cy="33.4" r="1.45"/><circle cx="408.3" cy="76.8" r="1.45"/><circle cx="407.3" cy="76.9" r="1.45"/><circle cx="403.7" cy="89.8" r="1.45"/><circle cx="407.1" cy="84.7" r="1.45"/><circle cx="415.4" cy="56.9" r="1.45"/><circle cx="411.7" cy="68.8" r="1.45"/><circle cx="422.9" cy="39.2" r="1.45"/><circle cx="412.1" cy="70.0" r="1.45"/><circle cx="398.0" cy="99.5" r="1.45"/><circle cx="408.5" cy="79.1" r="1.45"/><circle cx="405.6" cy="82.3" r="1.45"/><circle cx="388.6" cy="104.7" r="1.45"/><circle cx="399.0" cy="96.8" r="1.45"/><circle cx="407.9" cy="81.1" r="1.45"/><circle cx="430.3" cy="28.5" r="1.45"/><circle cx="413.5" cy="63.1" r="1.45"/><circle cx="407.8" cy="76.9" r="1.45"/><circle cx="414.0" cy="63.7" r="1.45"/><circle cx="415.8" cy="58.0" r="1.45"/><circle cx="416.1" cy="55.9" r="1.45"/><circle cx="411.8" cy="68.8" r="1.45"/><circle cx="416.0" cy="57.6" r="1.45"/><circle cx="376.5" cy="108.0" r="1.45"/><circle cx="411.3" cy="68.5" r="1.45"/><circle cx="398.9" cy="99.0" r="1.45"/><circle cx="387.3" cy="107.2" r="1.45"/><circle cx="415.6" cy="59.6" r="1.45"/><circle cx="404.3" cy="88.7" r="1.45"/><circle cx="414.5" cy="62.8" r="1.45"/><circle cx="416.1" cy="53.8" r="1.45"/><circle cx="408.5" cy="73.6" r="1.45"/></g>
<circle cx="398.50" cy="99.26" r="2.3" fill="#111" stroke="none" stroke-width="0.5" />
<g fill="#adadad" stroke="#202020" stroke-width="0.7"><circle cx="420.2" cy="50.7" r="1.45"/><circle cx="410.8" cy="65.6" r="1.45"/><circle cx="409.6" cy="69.7" r="1.45"/><circle cx="416.8" cy="51.8" r="1.45"/><circle cx="413.0" cy="65.6" r="1.45"/><circle cx="407.5" cy="82.0" r="1.45"/><circle cx="405.6" cy="83.1" r="1.45"/><circle cx="403.4" cy="89.4" r="1.45"/><circle cx="416.6" cy="54.4" r="1.45"/><circle cx="394.0" cy="101.5" r="1.45"/><circle cx="426.5" cy="34.4" r="1.45"/><circle cx="427.7" cy="32.4" r="1.45"/><circle cx="413.3" cy="58.0" r="1.45"/><circle cx="410.4" cy="71.2" r="1.45"/><circle cx="415.4" cy="61.0" r="1.45"/><circle cx="398.2" cy="98.9" r="1.45"/><circle cx="400.4" cy="96.4" r="1.45"/><circle cx="412.9" cy="65.4" r="1.45"/><circle cx="404.4" cy="88.0" r="1.45"/><circle cx="404.0" cy="90.2" r="1.45"/><circle cx="394.0" cy="104.1" r="1.45"/><circle cx="410.7" cy="72.0" r="1.45"/><circle cx="423.0" cy="36.6" r="1.45"/><circle cx="397.8" cy="97.3" r="1.45"/><circle cx="417.2" cy="56.8" r="1.45"/><circle cx="401.9" cy="93.4" r="1.45"/><circle cx="407.6" cy="76.3" r="1.45"/><circle cx="425.5" cy="36.2" r="1.45"/><circle cx="407.1" cy="82.0" r="1.45"/><circle cx="406.3" cy="82.5" r="1.45"/><circle cx="400.6" cy="95.9" r="1.45"/><circle cx="421.2" cy="47.5" r="1.45"/><circle cx="412.8" cy="66.0" r="1.45"/><circle cx="408.4" cy="79.8" r="1.45"/><circle cx="414.5" cy="62.0" r="1.45"/><circle cx="401.1" cy="89.7" r="1.45"/><circle cx="407.0" cy="83.5" r="1.45"/><circle cx="406.8" cy="81.0" r="1.45"/><circle cx="426.8" cy="33.7" r="1.45"/><circle cx="401.3" cy="93.7" r="1.45"/><circle cx="426.6" cy="34.0" r="1.45"/><circle cx="406.0" cy="84.4" r="1.45"/><circle cx="398.3" cy="100.1" r="1.45"/><circle cx="399.9" cy="94.3" r="1.45"/></g>
<circle cx="401.80" cy="93.30" r="2.2" fill="#bf1030" stroke="#5c0b19" stroke-width="0.6" />
<g fill="#adadad" stroke="#202020" stroke-width="0.7"><circle cx="400.4" cy="91.2" r="1.45"/><circle cx="426.2" cy="32.7" r="1.45"/><circle cx="408.5" cy="76.9" r="1.45"/></g>
<circle cx="407.80" cy="81.37" r="2.2" fill="#bf1030" stroke="#5c0b19" stroke-width="0.6" />
<g fill="#adadad" stroke="#202020" stroke-width="0.7"><circle cx="386.6" cy="105.9" r="1.45"/><circle cx="411.0" cy="68.0" r="1.45"/><circle cx="399.2" cy="98.7" r="1.45"/><circle cx="419.1" cy="50.2" r="1.45"/><circle cx="418.4" cy="50.8" r="1.45"/><circle cx="416.4" cy="55.2" r="1.45"/><circle cx="418.2" cy="49.4" r="1.45"/></g>
<circle cx="400.30" cy="97.48" r="2.2" fill="#bf1030" stroke="#5c0b19" stroke-width="0.6" />
<g fill="#adadad" stroke="#202020" stroke-width="0.7"><circle cx="417.7" cy="52.8" r="1.45"/><circle cx="392.1" cy="101.7" r="1.45"/><circle cx="389.8" cy="105.3" r="1.45"/><circle cx="419.6" cy="51.9" r="1.45"/><circle cx="409.3" cy="75.9" r="1.45"/><circle cx="418.9" cy="49.5" r="1.45"/><circle cx="414.4" cy="60.5" r="1.45"/><circle cx="421.8" cy="45.1" r="1.45"/><circle cx="399.1" cy="97.8" r="1.45"/><circle cx="406.4" cy="82.2" r="1.45"/><circle cx="419.2" cy="50.5" r="1.45"/><circle cx="427.4" cy="31.3" r="1.45"/><circle cx="390.6" cy="104.6" r="1.45"/><circle cx="420.9" cy="47.9" r="1.45"/></g>
<circle cx="417.00" cy="56.14" r="2.3" fill="#111" stroke="none" stroke-width="0.5" />
<g fill="#adadad" stroke="#202020" stroke-width="0.7"><circle cx="417.0" cy="57.5" r="1.45"/><circle cx="415.5" cy="56.7" r="1.45"/><circle cx="406.8" cy="80.5" r="1.45"/><circle cx="426.8" cy="31.9" r="1.45"/><circle cx="426.8" cy="32.1" r="1.45"/><circle cx="409.9" cy="76.9" r="1.45"/><circle cx="405.9" cy="82.1" r="1.45"/><circle cx="412.1" cy="69.9" r="1.45"/><circle cx="416.5" cy="54.4" r="1.45"/><circle cx="385.2" cy="106.9" r="1.45"/><circle cx="393.5" cy="104.9" r="1.45"/><circle cx="412.2" cy="66.6" r="1.45"/><circle cx="409.4" cy="76.4" r="1.45"/><circle cx="415.3" cy="61.0" r="1.45"/><circle cx="418.2" cy="52.2" r="1.45"/><circle cx="397.6" cy="100.3" r="1.45"/><circle cx="411.2" cy="73.7" r="1.45"/><circle cx="427.7" cy="29.2" r="1.45"/><circle cx="374.2" cy="109.6" r="1.45"/><circle cx="414.8" cy="63.2" r="1.45"/><circle cx="413.9" cy="62.8" r="1.45"/><circle cx="405.8" cy="84.6" r="1.45"/><circle cx="407.2" cy="76.6" r="1.45"/><circle cx="384.4" cy="107.9" r="1.45"/><circle cx="402.4" cy="93.8" r="1.45"/><circle cx="382.8" cy="105.9" r="1.45"/></g>
<circle cx="425.80" cy="36.01" r="2.2" fill="#bf1030" stroke="#5c0b19" stroke-width="0.6" />
<g fill="#adadad" stroke="#202020" stroke-width="0.7"><circle cx="406.6" cy="83.2" r="1.45"/><circle cx="413.7" cy="68.1" r="1.45"/><circle cx="409.0" cy="73.4" r="1.45"/><circle cx="409.4" cy="71.8" r="1.45"/><circle cx="396.6" cy="105.1" r="1.45"/><circle cx="420.7" cy="43.0" r="1.45"/><circle cx="415.1" cy="61.4" r="1.45"/><circle cx="426.1" cy="36.3" r="1.45"/><circle cx="401.0" cy="95.2" r="1.45"/><circle cx="384.5" cy="106.8" r="1.45"/><circle cx="405.5" cy="87.0" r="1.45"/><circle cx="402.9" cy="93.2" r="1.45"/><circle cx="425.2" cy="36.9" r="1.45"/><circle cx="405.6" cy="84.5" r="1.45"/><circle cx="413.6" cy="64.3" r="1.45"/><circle cx="413.9" cy="62.8" r="1.45"/><circle cx="410.6" cy="75.1" r="1.45"/><circle cx="404.4" cy="84.9" r="1.45"/><circle cx="429.7" cy="31.9" r="1.45"/><circle cx="409.5" cy="77.0" r="1.45"/><circle cx="402.1" cy="89.7" r="1.45"/><circle cx="403.6" cy="86.3" r="1.45"/><circle cx="417.1" cy="57.0" r="1.45"/><circle cx="405.7" cy="82.5" r="1.45"/><circle cx="416.0" cy="59.3" r="1.45"/><circle cx="416.3" cy="56.7" r="1.45"/><circle cx="394.5" cy="104.4" r="1.45"/><circle cx="396.8" cy="99.2" r="1.45"/><circle cx="408.0" cy="80.2" r="1.45"/><circle cx="409.2" cy="75.1" r="1.45"/><circle cx="414.2" cy="60.1" r="1.45"/><circle cx="406.7" cy="78.2" r="1.45"/><circle cx="396.2" cy="101.8" r="1.45"/><circle cx="414.1" cy="68.9" r="1.45"/><circle cx="425.3" cy="36.0" r="1.45"/><circle cx="420.3" cy="51.6" r="1.45"/><circle cx="408.4" cy="76.0" r="1.45"/><circle cx="398.8" cy="99.3" r="1.45"/><circle cx="425.5" cy="34.1" r="1.45"/><circle cx="414.2" cy="63.6" r="1.45"/><circle cx="404.7" cy="88.0" r="1.45"/><circle cx="423.6" cy="39.5" r="1.45"/><circle cx="411.5" cy="73.0" r="1.45"/><circle cx="400.3" cy="96.0" r="1.45"/><circle cx="408.9" cy="75.8" r="1.45"/><circle cx="426.8" cy="31.3" r="1.45"/><circle cx="415.2" cy="62.3" r="1.45"/><circle cx="407.4" cy="82.6" r="1.45"/><circle cx="412.4" cy="65.5" r="1.45"/><circle cx="427.7" cy="31.4" r="1.45"/><circle cx="416.4" cy="53.8" r="1.45"/><circle cx="399.4" cy="99.3" r="1.45"/><circle cx="403.9" cy="88.0" r="1.45"/><circle cx="410.1" cy="70.5" r="1.45"/><circle cx="431.6" cy="31.7" r="1.45"/><circle cx="395.0" cy="100.6" r="1.45"/><circle cx="418.4" cy="49.6" r="1.45"/><circle cx="373.4" cy="109.9" r="1.45"/><circle cx="403.0" cy="85.6" r="1.45"/><circle cx="394.4" cy="102.7" r="1.45"/><circle cx="397.8" cy="101.3" r="1.45"/><circle cx="425.3" cy="36.0" r="1.45"/><circle cx="406.8" cy="85.1" r="1.45"/><circle cx="407.1" cy="79.6" r="1.45"/><circle cx="386.9" cy="107.7" r="1.45"/><circle cx="415.7" cy="60.8" r="1.45"/><circle cx="409.2" cy="77.6" r="1.45"/><circle cx="422.5" cy="39.3" r="1.45"/><circle cx="400.3" cy="95.1" r="1.45"/><circle cx="404.4" cy="82.9" r="1.45"/><circle cx="412.0" cy="66.1" r="1.45"/><circle cx="430.0" cy="31.5" r="1.45"/><circle cx="416.5" cy="57.0" r="1.45"/><circle cx="389.8" cy="103.5" r="1.45"/><circle cx="410.3" cy="73.3" r="1.45"/><circle cx="406.2" cy="81.2" r="1.45"/><circle cx="407.9" cy="78.8" r="1.45"/><circle cx="410.2" cy="71.5" r="1.45"/><circle cx="399.7" cy="95.2" r="1.45"/><circle cx="409.9" cy="73.3" r="1.45"/><circle cx="427.1" cy="30.5" r="1.45"/><circle cx="406.7" cy="83.9" r="1.45"/><circle cx="410.5" cy="74.0" r="1.45"/><circle cx="407.3" cy="80.7" r="1.45"/><circle cx="378.3" cy="109.3" r="1.45"/><circle cx="409.1" cy="74.2" r="1.45"/><circle cx="419.1" cy="50.7" r="1.45"/><circle cx="424.4" cy="34.7" r="1.45"/><circle cx="417.6" cy="56.5" r="1.45"/><circle cx="418.3" cy="50.3" r="1.45"/><circle cx="413.9" cy="63.3" r="1.45"/><circle cx="408.3" cy="75.4" r="1.45"/><circle cx="415.9" cy="55.7" r="1.45"/><circle cx="426.6" cy="34.3" r="1.45"/><circle cx="412.9" cy="62.0" r="1.45"/></g>
<circle cx="403.00" cy="89.66" r="2.3" fill="#111" stroke="none" stroke-width="0.5" />
<g fill="#adadad" stroke="#202020" stroke-width="0.7"><circle cx="399.6" cy="97.1" r="1.45"/><circle cx="410.6" cy="74.0" r="1.45"/><circle cx="397.9" cy="98.4" r="1.45"/><circle cx="417.4" cy="57.2" r="1.45"/><circle cx="422.5" cy="38.4" r="1.45"/><circle cx="410.9" cy="72.7" r="1.45"/><circle cx="395.2" cy="101.9" r="1.45"/><circle cx="416.8" cy="55.9" r="1.45"/><circle cx="422.0" cy="39.7" r="1.45"/></g>
<circle cx="406.50" cy="82.48" r="2.3" fill="#111" stroke="none" stroke-width="0.5" />
<g fill="#adadad" stroke="#202020" stroke-width="0.7"><circle cx="403.8" cy="86.3" r="1.45"/><circle cx="418.1" cy="51.5" r="1.45"/></g>
<circle cx="421.00" cy="43.25" r="2.3" fill="#111" stroke="none" stroke-width="0.5" />
<circle cx="402.00" cy="91.25" r="2.3" fill="#111" stroke="none" stroke-width="0.5" />
<g fill="#adadad" stroke="#202020" stroke-width="0.7"><circle cx="399.9" cy="99.7" r="1.45"/></g>
<circle cx="393.00" cy="102.51" r="2.3" fill="#111" stroke="none" stroke-width="0.5" />
<g fill="#adadad" stroke="#202020" stroke-width="0.7"><circle cx="406.7" cy="83.3" r="1.45"/><circle cx="384.9" cy="107.4" r="1.45"/><circle cx="403.4" cy="91.7" r="1.45"/><circle cx="409.2" cy="73.0" r="1.45"/><circle cx="405.8" cy="81.6" r="1.45"/><circle cx="410.7" cy="74.3" r="1.45"/><circle cx="417.4" cy="53.6" r="1.45"/><circle cx="420.4" cy="48.4" r="1.45"/><circle cx="424.1" cy="35.2" r="1.45"/><circle cx="398.5" cy="103.4" r="1.45"/></g>
<circle cx="413.80" cy="65.93" r="2.2" fill="#bf1030" stroke="#5c0b19" stroke-width="0.6" />
<g fill="#adadad" stroke="#202020" stroke-width="0.7"><circle cx="409.0" cy="75.2" r="1.45"/><circle cx="409.1" cy="73.7" r="1.45"/><circle cx="399.6" cy="96.8" r="1.45"/><circle cx="402.7" cy="93.4" r="1.45"/><circle cx="409.9" cy="70.9" r="1.45"/><circle cx="402.7" cy="91.1" r="1.45"/><circle cx="384.0" cy="105.5" r="1.45"/><circle cx="408.8" cy="76.7" r="1.45"/><circle cx="419.4" cy="45.9" r="1.45"/><circle cx="398.3" cy="100.2" r="1.45"/></g>
<circle cx="420.30" cy="47.61" r="2.2" fill="#bf1030" stroke="#5c0b19" stroke-width="0.6" />
<g fill="#adadad" stroke="#202020" stroke-width="0.7"><circle cx="371.2" cy="112.2" r="1.45"/><circle cx="396.9" cy="104.5" r="1.45"/><circle cx="406.4" cy="80.2" r="1.45"/><circle cx="426.4" cy="33.0" r="1.45"/><circle cx="419.4" cy="49.5" r="1.45"/><circle cx="412.0" cy="66.3" r="1.45"/><circle cx="406.0" cy="82.6" r="1.45"/><circle cx="386.7" cy="107.1" r="1.45"/><circle cx="387.2" cy="103.1" r="1.45"/><circle cx="386.8" cy="106.0" r="1.45"/></g>
<circle cx="395.00" cy="102.74" r="2.3" fill="#111" stroke="none" stroke-width="0.5" />
<g fill="#adadad" stroke="#202020" stroke-width="0.7"><circle cx="411.5" cy="71.3" r="1.45"/><circle cx="407.3" cy="78.5" r="1.45"/><circle cx="427.2" cy="31.9" r="1.45"/><circle cx="407.1" cy="76.7" r="1.45"/><circle cx="417.8" cy="49.6" r="1.45"/><circle cx="390.6" cy="104.3" r="1.45"/><circle cx="416.6" cy="58.8" r="1.45"/><circle cx="414.9" cy="58.5" r="1.45"/><circle cx="407.1" cy="84.6" r="1.45"/><circle cx="400.8" cy="95.6" r="1.45"/><circle cx="389.9" cy="104.8" r="1.45"/><circle cx="409.0" cy="76.3" r="1.45"/><circle cx="402.8" cy="89.2" r="1.45"/><circle cx="398.1" cy="98.8" r="1.45"/><circle cx="425.5" cy="31.4" r="1.45"/><circle cx="420.9" cy="45.7" r="1.45"/><circle cx="417.5" cy="51.8" r="1.45"/></g>
<circle cx="404.80" cy="88.33" r="2.2" fill="#bf1030" stroke="#5c0b19" stroke-width="0.6" />
<g fill="#adadad" stroke="#202020" stroke-width="0.7"><circle cx="413.1" cy="62.1" r="1.45"/><circle cx="408.0" cy="81.3" r="1.45"/></g>
<circle cx="405.50" cy="82.69" r="2.3" fill="#111" stroke="none" stroke-width="0.5" />
<g fill="#adadad" stroke="#202020" stroke-width="0.7"><circle cx="417.7" cy="51.5" r="1.45"/><circle cx="414.7" cy="59.6" r="1.45"/><circle cx="413.9" cy="64.6" r="1.45"/><circle cx="416.8" cy="54.4" r="1.45"/><circle cx="430.5" cy="33.9" r="1.45"/><circle cx="419.3" cy="51.2" r="1.45"/></g>
<circle cx="401.50" cy="93.20" r="2.3" fill="#111" stroke="none" stroke-width="0.5" />
<g fill="#adadad" stroke="#202020" stroke-width="0.7"><circle cx="407.4" cy="86.2" r="1.45"/></g>
<circle cx="404.00" cy="87.20" r="2.3" fill="#111" stroke="none" stroke-width="0.5" />
<g fill="#adadad" stroke="#202020" stroke-width="0.7"><circle cx="411.9" cy="67.9" r="1.45"/><circle cx="396.0" cy="104.1" r="1.45"/><circle cx="410.9" cy="70.0" r="1.45"/><circle cx="413.6" cy="63.1" r="1.45"/><circle cx="419.5" cy="46.3" r="1.45"/><circle cx="422.3" cy="41.5" r="1.45"/><circle cx="411.2" cy="74.5" r="1.45"/><circle cx="389.4" cy="104.9" r="1.45"/></g>
<circle cx="399.50" cy="94.89" r="2.3" fill="#111" stroke="none" stroke-width="0.5" />
<g fill="#adadad" stroke="#202020" stroke-width="0.7"><circle cx="397.5" cy="98.4" r="1.45"/><circle cx="427.5" cy="30.8" r="1.45"/><circle cx="417.8" cy="53.8" r="1.45"/><circle cx="407.5" cy="82.7" r="1.45"/><circle cx="385.9" cy="107.0" r="1.45"/><circle cx="410.5" cy="72.6" r="1.45"/><circle cx="416.7" cy="56.4" r="1.45"/><circle cx="407.1" cy="79.7" r="1.45"/><circle cx="416.7" cy="55.9" r="1.45"/><circle cx="396.6" cy="100.8" r="1.45"/><circle cx="411.0" cy="73.7" r="1.45"/><circle cx="396.4" cy="101.5" r="1.45"/><circle cx="408.3" cy="76.0" r="1.45"/><circle cx="415.6" cy="59.0" r="1.45"/><circle cx="419.3" cy="48.1" r="1.45"/><circle cx="402.2" cy="90.3" r="1.45"/><circle cx="416.1" cy="57.3" r="1.45"/><circle cx="422.4" cy="38.2" r="1.45"/><circle cx="424.9" cy="37.7" r="1.45"/><circle cx="420.1" cy="48.3" r="1.45"/><circle cx="418.0" cy="52.6" r="1.45"/></g>
<circle cx="397.00" cy="100.44" r="2.3" fill="#111" stroke="none" stroke-width="0.5" />
<g fill="#adadad" stroke="#202020" stroke-width="0.7"><circle cx="382.1" cy="107.3" r="1.45"/><circle cx="407.8" cy="84.1" r="1.45"/></g>
<circle cx="391.50" cy="104.17" r="2.3" fill="#111" stroke="none" stroke-width="0.5" />
<g fill="#adadad" stroke="#202020" stroke-width="0.7"><circle cx="411.0" cy="76.0" r="1.45"/><circle cx="402.6" cy="87.6" r="1.45"/><circle cx="388.2" cy="105.9" r="1.45"/><circle cx="422.7" cy="39.8" r="1.45"/><circle cx="426.7" cy="32.8" r="1.45"/></g>
<circle cx="414.00" cy="63.11" r="2.3" fill="#111" stroke="none" stroke-width="0.5" />
<circle cx="411.50" cy="70.51" r="2.3" fill="#111" stroke="none" stroke-width="0.5" />
<g fill="#adadad" stroke="#202020" stroke-width="0.7"><circle cx="401.8" cy="90.4" r="1.45"/><circle cx="429.9" cy="32.5" r="1.45"/><circle cx="412.0" cy="68.8" r="1.45"/><circle cx="403.3" cy="90.0" r="1.45"/><circle cx="427.2" cy="34.8" r="1.45"/><circle cx="431.4" cy="29.4" r="1.45"/></g>
<circle cx="388.00" cy="105.19" r="2.3" fill="#111" stroke="none" stroke-width="0.5" />
<g fill="#adadad" stroke="#202020" stroke-width="0.7"><circle cx="400.6" cy="95.9" r="1.45"/><circle cx="398.4" cy="100.7" r="1.45"/><circle cx="386.9" cy="103.9" r="1.45"/><circle cx="419.2" cy="48.6" r="1.45"/><circle cx="387.2" cy="105.1" r="1.45"/><circle cx="413.8" cy="62.5" r="1.45"/><circle cx="416.0" cy="55.4" r="1.45"/><circle cx="422.4" cy="40.9" r="1.45"/><circle cx="397.7" cy="99.3" r="1.45"/><circle cx="403.9" cy="87.8" r="1.45"/><circle cx="410.3" cy="71.4" r="1.45"/><circle cx="400.5" cy="98.3" r="1.45"/></g>
<circle cx="444.30" cy="28.00" r="2.3" fill="#111" stroke="none" stroke-width="0.5" />
<g fill="#adadad" stroke="#202020" stroke-width="0.7"><circle cx="415.3" cy="56.8" r="1.45"/></g>
<circle cx="410.50" cy="71.62" r="2.3" fill="#111" stroke="none" stroke-width="0.5" />
<g fill="#adadad" stroke="#202020" stroke-width="0.7"><circle cx="424.8" cy="38.3" r="1.45"/><circle cx="416.3" cy="56.9" r="1.45"/><circle cx="406.7" cy="80.4" r="1.45"/><circle cx="414.5" cy="58.8" r="1.45"/><circle cx="410.8" cy="69.1" r="1.45"/><circle cx="403.9" cy="88.2" r="1.45"/><circle cx="417.5" cy="54.7" r="1.45"/><circle cx="423.5" cy="40.4" r="1.45"/><circle cx="386.2" cy="106.0" r="1.45"/><circle cx="373.5" cy="109.6" r="1.45"/><circle cx="414.8" cy="58.7" r="1.45"/><circle cx="372.8" cy="111.5" r="1.45"/><circle cx="404.6" cy="84.4" r="1.45"/><circle cx="405.4" cy="80.7" r="1.45"/><circle cx="411.9" cy="70.9" r="1.45"/><circle cx="416.2" cy="57.2" r="1.45"/><circle cx="395.0" cy="100.7" r="1.45"/><circle cx="409.6" cy="73.6" r="1.45"/><circle cx="407.1" cy="80.6" r="1.45"/></g>
<circle cx="390.00" cy="102.99" r="2.3" fill="#111" stroke="none" stroke-width="0.5" />
<g fill="#adadad" stroke="#202020" stroke-width="0.7"><circle cx="409.2" cy="75.0" r="1.45"/><circle cx="413.3" cy="63.2" r="1.45"/><circle cx="401.9" cy="94.5" r="1.45"/><circle cx="410.6" cy="74.3" r="1.45"/></g>
<circle cx="385.40" cy="107.70" r="2.3" fill="#111" stroke="none" stroke-width="0.5" />
<g fill="#adadad" stroke="#202020" stroke-width="0.7"><circle cx="410.5" cy="73.0" r="1.45"/><circle cx="410.8" cy="70.8" r="1.45"/><circle cx="407.1" cy="82.3" r="1.45"/><circle cx="401.5" cy="89.9" r="1.45"/><circle cx="415.6" cy="58.0" r="1.45"/><circle cx="398.0" cy="96.0" r="1.45"/><circle cx="405.9" cy="82.6" r="1.45"/><circle cx="413.3" cy="68.0" r="1.45"/><circle cx="370.1" cy="111.2" r="1.45"/><circle cx="413.8" cy="60.0" r="1.45"/><circle cx="419.2" cy="48.2" r="1.45"/><circle cx="402.6" cy="92.0" r="1.45"/><circle cx="385.8" cy="105.2" r="1.45"/><circle cx="412.2" cy="70.3" r="1.45"/><circle cx="413.1" cy="66.7" r="1.45"/><circle cx="414.7" cy="58.9" r="1.45"/><circle cx="414.4" cy="63.8" r="1.45"/></g>
<circle cx="409.00" cy="78.23" r="2.3" fill="#111" stroke="none" stroke-width="0.5" />
<g fill="#adadad" stroke="#202020" stroke-width="0.7"><circle cx="425.9" cy="34.8" r="1.45"/><circle cx="397.4" cy="99.6" r="1.45"/><circle cx="409.8" cy="73.0" r="1.45"/><circle cx="409.0" cy="75.2" r="1.45"/></g>
<circle cx="408.00" cy="77.49" r="2.3" fill="#111" stroke="none" stroke-width="0.5" />
<g fill="#adadad" stroke="#202020" stroke-width="0.7"><circle cx="409.8" cy="72.7" r="1.45"/><circle cx="395.0" cy="101.2" r="1.45"/><circle cx="420.8" cy="45.6" r="1.45"/><circle cx="399.8" cy="94.3" r="1.45"/><circle cx="410.3" cy="70.1" r="1.45"/><circle cx="426.5" cy="32.0" r="1.45"/><circle cx="415.1" cy="58.3" r="1.45"/><circle cx="408.9" cy="72.7" r="1.45"/><circle cx="397.7" cy="101.2" r="1.45"/><circle cx="408.3" cy="79.4" r="1.45"/><circle cx="372.3" cy="109.4" r="1.45"/><circle cx="430.2" cy="30.8" r="1.45"/><circle cx="392.6" cy="103.8" r="1.45"/><circle cx="406.5" cy="78.5" r="1.45"/><circle cx="397.4" cy="99.6" r="1.45"/><circle cx="394.1" cy="105.0" r="1.45"/><circle cx="418.1" cy="53.7" r="1.45"/><circle cx="404.4" cy="88.8" r="1.45"/><circle cx="420.3" cy="43.9" r="1.45"/><circle cx="398.5" cy="97.6" r="1.45"/><circle cx="416.2" cy="56.0" r="1.45"/><circle cx="432.3" cy="27.3" r="1.45"/><circle cx="406.0" cy="80.6" r="1.45"/><circle cx="424.0" cy="37.7" r="1.45"/><circle cx="406.6" cy="83.3" r="1.45"/><circle cx="401.2" cy="93.4" r="1.45"/><circle cx="408.1" cy="81.0" r="1.45"/><circle cx="426.3" cy="34.5" r="1.45"/><circle cx="424.4" cy="36.7" r="1.45"/><circle cx="418.6" cy="52.0" r="1.45"/><circle cx="410.7" cy="70.5" r="1.45"/><circle cx="425.2" cy="35.9" r="1.45"/></g>
<circle cx="396.00" cy="105.96" r="2.3" fill="#111" stroke="none" stroke-width="0.5" />
<g fill="#adadad" stroke="#202020" stroke-width="0.7"><circle cx="378.0" cy="110.0" r="1.45"/><circle cx="413.7" cy="63.0" r="1.45"/><circle cx="398.1" cy="99.3" r="1.45"/><circle cx="417.6" cy="53.0" r="1.45"/><circle cx="412.4" cy="69.3" r="1.45"/><circle cx="412.9" cy="67.3" r="1.45"/><circle cx="403.3" cy="88.4" r="1.45"/><circle cx="399.1" cy="95.5" r="1.45"/><circle cx="418.7" cy="46.1" r="1.45"/><circle cx="389.0" cy="106.1" r="1.45"/><circle cx="425.9" cy="34.8" r="1.45"/></g>
<circle cx="400.00" cy="95.12" r="2.3" fill="#111" stroke="none" stroke-width="0.5" />
<g fill="#adadad" stroke="#202020" stroke-width="0.7"><circle cx="423.6" cy="41.4" r="1.45"/><circle cx="422.9" cy="42.4" r="1.45"/></g>
<circle cx="382.00" cy="111.50" r="2.3" fill="#111" stroke="none" stroke-width="0.5" />
<g fill="#adadad" stroke="#202020" stroke-width="0.7"><circle cx="417.0" cy="55.1" r="1.45"/><circle cx="424.6" cy="33.8" r="1.45"/></g>
<circle cx="347.70" cy="117.00" r="1.25" fill="#b5b5b5" stroke="#666" stroke-width="0.55" />
<circle cx="361.50" cy="116.90" r="1.25" fill="#b5b5b5" stroke="#666" stroke-width="0.55" />
<circle cx="363.00" cy="116.80" r="1.25" fill="#b5b5b5" stroke="#666" stroke-width="0.55" />
<circle cx="364.50" cy="116.70" r="1.25" fill="#b5b5b5" stroke="#666" stroke-width="0.55" />
<circle cx="366.00" cy="116.60" r="1.25" fill="#b5b5b5" stroke="#666" stroke-width="0.55" />
<circle cx="367.50" cy="116.50" r="1.25" fill="#b5b5b5" stroke="#666" stroke-width="0.55" />
<circle cx="457.70" cy="30.00" r="1.25" fill="#b5b5b5" stroke="#666" stroke-width="0.55" />
<circle cx="461.50" cy="26.20" r="1.25" fill="#b5b5b5" stroke="#666" stroke-width="0.55" />
<circle cx="438.38" cy="26.71" r="1.25" fill="#b5b5b5" stroke="#666" stroke-width="0.55" />
<circle cx="436.87" cy="30.96" r="1.25" fill="#b5b5b5" stroke="#666" stroke-width="0.55" />
<circle cx="450.88" cy="27.14" r="1.25" fill="#b5b5b5" stroke="#666" stroke-width="0.55" />
<circle cx="436.89" cy="29.49" r="1.25" fill="#b5b5b5" stroke="#666" stroke-width="0.55" />
<circle cx="428.62" cy="34.73" r="1.25" fill="#b5b5b5" stroke="#666" stroke-width="0.55" />
<circle cx="430.15" cy="31.65" r="1.25" fill="#b5b5b5" stroke="#666" stroke-width="0.55" />
<circle cx="444.52" cy="28.25" r="1.25" fill="#b5b5b5" stroke="#666" stroke-width="0.55" />
<circle cx="450.83" cy="25.40" r="1.25" fill="#b5b5b5" stroke="#666" stroke-width="0.55" />
<circle cx="439.41" cy="26.98" r="1.25" fill="#b5b5b5" stroke="#666" stroke-width="0.55" />
<circle cx="439.31" cy="25.32" r="1.25" fill="#b5b5b5" stroke="#666" stroke-width="0.55" />
<circle cx="440.66" cy="32.69" r="1.25" fill="#b5b5b5" stroke="#666" stroke-width="0.55" />
<circle cx="445.21" cy="24.54" r="1.25" fill="#b5b5b5" stroke="#666" stroke-width="0.55" />
<circle cx="433.11" cy="23.38" r="1.25" fill="#b5b5b5" stroke="#666" stroke-width="0.55" />
<circle cx="442.00" cy="31.76" r="1.25" fill="#b5b5b5" stroke="#666" stroke-width="0.55" />
<circle cx="440.80" cy="31.07" r="1.25" fill="#b5b5b5" stroke="#666" stroke-width="0.55" />
<circle cx="442.32" cy="27.38" r="1.25" fill="#b5b5b5" stroke="#666" stroke-width="0.55" />
<circle cx="432.16" cy="31.13" r="1.25" fill="#b5b5b5" stroke="#666" stroke-width="0.55" />
<circle cx="431.91" cy="27.60" r="1.25" fill="#b5b5b5" stroke="#666" stroke-width="0.55" />
<circle cx="436.01" cy="27.42" r="1.25" fill="#b5b5b5" stroke="#666" stroke-width="0.55" />
<circle cx="449.32" cy="28.67" r="1.25" fill="#b5b5b5" stroke="#666" stroke-width="0.55" />
<line x1="398.40" y1="21.20" x2="398.40" y2="125.00" stroke="#c8102e" stroke-width="1" stroke-dasharray="1.8,1.4"/>
<line x1="304.10" y1="22.00" x2="304.10" y2="126.50" stroke="#222" stroke-width="1.1" />
<line x1="303.60" y1="125.80" x2="511.70" y2="125.80" stroke="#222" stroke-width="1.4" />
<line x1="301.30" y1="31.00" x2="304.10" y2="31.00" stroke="#222" stroke-width="0.8" />
<text x="298.10" y="33.20" font-size="6" text-anchor="end" font-weight="normal" font-style="normal" fill="#333" >1.0</text>
<line x1="301.30" y1="74.00" x2="304.10" y2="74.00" stroke="#222" stroke-width="0.8" />
<text x="298.10" y="76.20" font-size="6" text-anchor="end" font-weight="normal" font-style="normal" fill="#333" >0.5</text>
<line x1="301.30" y1="117.10" x2="304.10" y2="117.10" stroke="#222" stroke-width="0.8" />
<text x="298.10" y="119.30" font-size="6" text-anchor="end" font-weight="normal" font-style="normal" fill="#333" >0.0</text>
<line x1="331.10" y1="125.80" x2="331.10" y2="128.30" stroke="#222" stroke-width="0.8" />
<text x="331.10" y="135.80" font-size="6" text-anchor="middle" font-weight="normal" font-style="normal" fill="#333" >−2</text>
<line x1="376.00" y1="125.80" x2="376.00" y2="128.30" stroke="#222" stroke-width="0.8" />
<text x="376.00" y="135.80" font-size="6" text-anchor="middle" font-weight="normal" font-style="normal" fill="#333" >−1</text>
<line x1="420.90" y1="125.80" x2="420.90" y2="128.30" stroke="#222" stroke-width="0.8" />
<text x="420.90" y="135.80" font-size="6" text-anchor="middle" font-weight="normal" font-style="normal" fill="#333" >0</text>
<line x1="465.80" y1="125.80" x2="465.80" y2="128.30" stroke="#222" stroke-width="0.8" />
<text x="465.80" y="135.80" font-size="6" text-anchor="middle" font-weight="normal" font-style="normal" fill="#333" >1</text>
<line x1="510.70" y1="125.80" x2="510.70" y2="128.30" stroke="#222" stroke-width="0.8" />
<text x="510.70" y="135.80" font-size="6" text-anchor="middle" font-weight="normal" font-style="normal" fill="#333" >2</text>
<text x="408.70" y="147.80" font-size="8" text-anchor="middle" font-weight="normal" font-style="normal" fill="#222" style="stroke:#222;stroke-width:0.22px" textLength="67.3" lengthAdjust="spacingAndGlyphs">CREBBP dependency score</text>
<text x="0" y="0" transform="translate(284.20,73.90) rotate(-90)" font-size="8" text-anchor="middle" font-weight="normal" font-style="normal" fill="#222" style="stroke:#222;stroke-width:0.22px" textLength="52" lengthAdjust="spacingAndGlyphs">CREBBP scaled rank</text>
<circle cx="309.10" cy="28.30" r="2.8" fill="#bf1030" stroke="#5c0b19" stroke-width="0.6" />
<circle cx="309.10" cy="37.20" r="2.0" fill="#111" stroke="none" stroke-width="0.5" />
<circle cx="309.40" cy="46.20" r="0.9" fill="#aaa" stroke="#666" stroke-width="0.4" />
<text x="315.00" y="30.20" font-size="5.3" text-anchor="start" font-weight="normal" font-style="normal" fill="#111" >MLLr leukemia cell lines</text>
<text x="315.00" y="39.20" font-size="5.3" text-anchor="start" font-weight="normal" font-style="normal" fill="#111" >non-MLLr leukemia cell lines</text>
<text x="315.00" y="48.20" font-size="5.3" text-anchor="start" font-weight="normal" font-style="normal" fill="#111" >Other cancer cell lines</text>
<defs><filter id="b1" x="-20%" y="-100%" width="140%" height="300%"><feGaussianBlur stdDeviation="0.9 0.7"/></filter><filter id="b2" x="-20%" y="-100%" width="140%" height="300%"><feGaussianBlur stdDeviation="0.6"/></filter><filter id="b4" x="-20%" y="-100%" width="140%" height="300%"><feGaussianBlur stdDeviation="1.0 1.2"/></filter><filter id="b3"><feGaussianBlur stdDeviation="0.5"/></filter></defs>
<rect x="17.40" y="204.20" width="59.60" height="16.80" fill="#d6d6d6" stroke="#222" stroke-width="1" />
<rect x="19.80" y="210.90" width="12.00" height="2.80" rx="1.40" fill="#222" opacity="0.85" filter="url(#b1)"/>
<rect x="39.00" y="211.80" width="12.00" height="2.40" rx="1.20" fill="#222" opacity="0.13" filter="url(#b1)"/>
<rect x="58.30" y="210.90" width="15.50" height="2.80" rx="1.40" fill="#222" opacity="0.78" filter="url(#b1)"/>
<rect x="17.40" y="223.40" width="59.60" height="15.40" fill="#d9d9d9" stroke="#222" stroke-width="1" />
<rect x="19.00" y="229.30" width="17.00" height="4.60" rx="2.30" fill="#111" opacity="1.0" filter="url(#b1)"/>
<rect x="39.30" y="229.30" width="16.60" height="4.60" rx="2.30" fill="#111" opacity="1.0" filter="url(#b1)"/>
<rect x="58.20" y="229.30" width="17.00" height="4.60" rx="2.30" fill="#111" opacity="1.0" filter="url(#b1)"/>
<text x="79.20" y="213.80" font-size="6.1" text-anchor="start" font-weight="normal" font-style="normal" fill="#222" >EP300</text>
<text x="79.20" y="233.80" font-size="6.1" text-anchor="start" font-weight="normal" font-style="normal" fill="#222" >Actin</text>
<text x="0" y="0" transform="translate(26.30,201.60) rotate(-45)" font-size="6.1" text-anchor="start" font-weight="normal" font-style="normal" fill="#222" >shCtrl</text>
<text x="0" y="0" transform="translate(43.60,201.60) rotate(-45)" font-size="6.1" text-anchor="start" font-weight="normal" font-style="normal" fill="#222" >shEp300</text>
<text x="0" y="0" transform="translate(62.30,201.60) rotate(-45)" font-size="6.1" text-anchor="start" font-weight="normal" font-style="normal" fill="#222" >shCrebbp</text>
<rect x="17.40" y="288.90" width="59.40" height="15.70" fill="#f6f6f6" stroke="#222" stroke-width="1" />
<rect x="20.50" y="293.00" width="14.50" height="4.00" rx="2.00" fill="#111" opacity="0.16" filter="url(#b4)"/>
<rect x="20.50" y="298.70" width="14.50" height="2.40" rx="1.20" fill="#111" opacity="0.42" filter="url(#b1)"/>
<rect x="59.50" y="293.00" width="15.00" height="4.00" rx="2.00" fill="#111" opacity="0.24" filter="url(#b4)"/>
<rect x="59.50" y="298.60" width="15.00" height="2.60" rx="1.30" fill="#111" opacity="0.55" filter="url(#b1)"/>
<rect x="17.40" y="307.10" width="59.40" height="16.70" fill="#ececec" stroke="#222" stroke-width="1" />
<rect x="21.00" y="315.10" width="14.50" height="2.80" rx="1.40" fill="#111" opacity="1.0" filter="url(#b2)"/>
<rect x="39.30" y="315.10" width="15.50" height="2.80" rx="1.40" fill="#111" opacity="1.0" filter="url(#b2)"/>
<rect x="57.50" y="315.10" width="15.50" height="2.80" rx="1.40" fill="#111" opacity="1.0" filter="url(#b2)"/>
<text x="79.60" y="298.20" font-size="6.1" text-anchor="start" font-weight="normal" font-style="normal" fill="#222" >CREBBP</text>
<text x="79.20" y="317.80" font-size="6.1" text-anchor="start" font-weight="normal" font-style="normal" fill="#222" >Actin</text>
<text x="0" y="0" transform="translate(24.30,286.60) rotate(-45)" font-size="6.1" text-anchor="start" font-weight="normal" font-style="normal" fill="#222" >shCtrl</text>
<text x="0" y="0" transform="translate(46.30,286.60) rotate(-45)" font-size="6.1" text-anchor="start" font-weight="normal" font-style="normal" fill="#222" >shCrebbp</text>
<text x="0" y="0" transform="translate(68.30,286.60) rotate(-45)" font-size="6.1" text-anchor="start" font-weight="normal" font-style="normal" fill="#222" >shEp300</text>
<rect x="184.50" y="227.77" width="28.00" height="76.73" fill="#c4c3c8" stroke="none" stroke-width="1" />
<rect x="227.30" y="263.42" width="27.70" height="41.08" fill="#33a737" stroke="none" stroke-width="1" />
<rect x="270.30" y="268.93" width="27.50" height="35.57" fill="#cb0c2f" stroke="none" stroke-width="1" />
<line x1="169.70" y1="209.50" x2="169.70" y2="305.00" stroke="#222" stroke-width="1.1" />
<line x1="166.50" y1="304.50" x2="312.30" y2="304.50" stroke="#222" stroke-width="1.2" />
<line x1="166.80" y1="225.80" x2="169.70" y2="225.80" stroke="#222" stroke-width="0.8" />
<text x="164.10" y="228.00" font-size="6" text-anchor="end" font-weight="normal" font-style="normal" fill="#333" >1.0</text>
<line x1="166.80" y1="265.15" x2="169.70" y2="265.15" stroke="#222" stroke-width="0.8" />
<text x="164.10" y="267.35" font-size="6" text-anchor="end" font-weight="normal" font-style="normal" fill="#333" >0.5</text>
<line x1="166.80" y1="304.50" x2="169.70" y2="304.50" stroke="#222" stroke-width="0.8" />
<text x="164.10" y="306.70" font-size="6" text-anchor="end" font-weight="normal" font-style="normal" fill="#333" >0</text>
<line x1="198.50" y1="304.50" x2="198.50" y2="307.80" stroke="#222" stroke-width="1.0" />
<text x="198.50" y="315.20" font-size="6.2" text-anchor="middle" font-weight="normal" font-style="italic" fill="#333" >shCtrl</text>
<line x1="241.20" y1="304.50" x2="241.20" y2="307.80" stroke="#222" stroke-width="1.0" />
<text x="241.20" y="315.20" font-size="6.2" text-anchor="middle" font-weight="normal" font-style="italic" fill="#333" >shEp300</text>
<line x1="284.00" y1="304.50" x2="284.00" y2="307.80" stroke="#222" stroke-width="1.0" />
<text x="284.00" y="315.20" font-size="6.2" text-anchor="middle" font-weight="normal" font-style="italic" fill="#333" >shCrebbp</text>
<text x="0" y="0" transform="translate(150.50,256.60) rotate(-90)" font-size="8" text-anchor="middle" font-weight="normal" font-style="normal" fill="#222" style="stroke:#222;stroke-width:0.22px" textLength="45" lengthAdjust="spacingAndGlyphs">H3K27ac intensity</text>
<line x1="198.50" y1="217.00" x2="198.50" y2="237.50" stroke="#111" stroke-width="1.2" />
<line x1="190.60" y1="217.00" x2="206.40" y2="217.00" stroke="#111" stroke-width="1.2" />
<line x1="190.60" y1="237.50" x2="206.40" y2="237.50" stroke="#111" stroke-width="1.2" />
<circle cx="198.50" cy="217.00" r="2.5" fill="#111" stroke="none" stroke-width="0.5" />
<circle cx="198.50" cy="226.00" r="2.5" fill="#111" stroke="none" stroke-width="0.5" />
<circle cx="198.50" cy="237.50" r="2.5" fill="#111" stroke="none" stroke-width="0.5" />
<line x1="241.00" y1="259.80" x2="241.00" y2="266.00" stroke="#111" stroke-width="1.2" />
<line x1="233.10" y1="259.80" x2="248.90" y2="259.80" stroke="#111" stroke-width="1.2" />
<line x1="233.10" y1="266.00" x2="248.90" y2="266.00" stroke="#111" stroke-width="1.2" />
<rect x="234.30" y="258.20" width="4.20" height="4.20" fill="#111" stroke="none" stroke-width="1" />
<rect x="243.50" y="258.40" width="4.20" height="4.20" fill="#111" stroke="none" stroke-width="1" />
<rect x="238.80" y="263.70" width="4.20" height="4.20" fill="#111" stroke="none" stroke-width="1" />
<line x1="283.60" y1="265.60" x2="283.60" y2="270.60" stroke="#111" stroke-width="1.2" />
<line x1="275.70" y1="265.60" x2="291.50" y2="265.60" stroke="#111" stroke-width="1.2" />
<line x1="275.70" y1="270.60" x2="291.50" y2="270.60" stroke="#111" stroke-width="1.2" />
<polygon points="280.00,264.45 277.50,269.20 282.50,269.20" fill="#111"/>
<polygon points="287.00,264.95 284.50,269.70 289.50,269.70" fill="#111"/>
<polygon points="279.00,267.68 276.70,272.05 281.30,272.05" fill="#111"/>
<text x="241.00" y="255.00" font-size="5.4" text-anchor="middle" font-weight="normal" font-style="normal" fill="#333" >**</text>
<text x="283.30" y="263.60" font-size="5.4" text-anchor="middle" font-weight="normal" font-style="normal" fill="#333" >**</text>
<rect x="241.60" y="219.50" width="41.00" height="11.30" fill="#f4f4f4" stroke="#222" stroke-width="1" />
<rect x="243.80" y="224.30" width="10.00" height="2.60" rx="1.30" fill="#111" opacity="0.95" filter="url(#b2)"/>
<rect x="256.60" y="224.80" width="9.60" height="2.00" rx="1.00" fill="#111" opacity="0.5" filter="url(#b2)"/>
<rect x="269.50" y="224.80" width="10.00" height="2.00" rx="1.00" fill="#111" opacity="0.45" filter="url(#b2)"/>
<rect x="241.60" y="233.20" width="41.00" height="10.60" fill="#f0f0f0" stroke="#222" stroke-width="1" />
<rect x="243.20" y="236.80" width="12.30" height="3.60" rx="1.80" fill="#111" opacity="1.0" filter="url(#b2)"/>
<rect x="256.00" y="236.80" width="12.30" height="3.60" rx="1.80" fill="#111" opacity="1.0" filter="url(#b2)"/>
<rect x="268.80" y="236.80" width="12.50" height="3.60" rx="1.80" fill="#111" opacity="1.0" filter="url(#b2)"/>
<text x="286.20" y="227.60" font-size="5.85" text-anchor="start" font-weight="normal" font-style="normal" fill="#222" >H3K27ac</text>
<text x="286.20" y="240.60" font-size="5.85" text-anchor="start" font-weight="normal" font-style="normal" fill="#222" >H3</text>
<text x="0" y="0" transform="translate(248.60,217.40) rotate(-45)" font-size="6.1" text-anchor="start" font-weight="normal" font-style="normal" fill="#222" >shCtrl</text>
<text x="0" y="0" transform="translate(262.10,217.40) rotate(-45)" font-size="6.1" text-anchor="start" font-weight="normal" font-style="normal" fill="#222" >shEp300</text>
<text x="0" y="0" transform="translate(275.00,217.40) rotate(-45)" font-size="6.1" text-anchor="start" font-weight="normal" font-style="normal" fill="#222" >shCrebbp</text>
<rect x="380.00" y="233.05" width="27.30" height="71.45" fill="#c4c3c8" stroke="none" stroke-width="1" />
<rect x="422.70" y="273.03" width="27.50" height="31.47" fill="#33a737" stroke="none" stroke-width="1" />
<rect x="465.30" y="242.04" width="27.20" height="62.46" fill="#cb0c2f" stroke="none" stroke-width="1" />
<line x1="365.00" y1="208.00" x2="365.00" y2="305.00" stroke="#222" stroke-width="1" />
<line x1="361.50" y1="304.50" x2="508.00" y2="304.50" stroke="#222" stroke-width="1.2" />
<line x1="362.00" y1="304.50" x2="365.00" y2="304.50" stroke="#222" stroke-width="0.8" />
<text x="358.20" y="306.70" font-size="6" text-anchor="end" font-weight="normal" font-style="normal" fill="#333" >0</text>
<line x1="362.00" y1="280.84" x2="365.00" y2="280.84" stroke="#222" stroke-width="0.8" />
<text x="358.20" y="283.04" font-size="6" text-anchor="end" font-weight="normal" font-style="normal" fill="#333" >100</text>
<line x1="362.00" y1="257.18" x2="365.00" y2="257.18" stroke="#222" stroke-width="0.8" />
<text x="358.20" y="259.38" font-size="6" text-anchor="end" font-weight="normal" font-style="normal" fill="#333" >200</text>
<line x1="362.00" y1="233.52" x2="365.00" y2="233.52" stroke="#222" stroke-width="0.8" />
<text x="358.20" y="235.72" font-size="6" text-anchor="end" font-weight="normal" font-style="normal" fill="#333" >300</text>
<line x1="362.00" y1="209.86" x2="365.00" y2="209.86" stroke="#222" stroke-width="0.8" />
<text x="358.20" y="212.06" font-size="6" text-anchor="end" font-weight="normal" font-style="normal" fill="#333" >400</text>
<line x1="393.60" y1="304.50" x2="393.60" y2="307.80" stroke="#222" stroke-width="1.0" />
<text x="393.60" y="315.20" font-size="6.2" text-anchor="middle" font-weight="normal" font-style="italic" fill="#333" >shCtrl</text>
<line x1="436.30" y1="304.50" x2="436.30" y2="307.80" stroke="#222" stroke-width="1.0" />
<text x="436.30" y="315.20" font-size="6.2" text-anchor="middle" font-weight="normal" font-style="italic" fill="#333" >shEp300</text>
<line x1="478.80" y1="304.50" x2="478.80" y2="307.80" stroke="#222" stroke-width="1.0" />
<text x="478.80" y="315.20" font-size="6.2" text-anchor="middle" font-weight="normal" font-style="italic" fill="#333" >shCrebbp</text>
<text x="0" y="0" transform="translate(343.10,255.60) rotate(-90)" font-size="8" text-anchor="middle" font-weight="normal" font-style="normal" fill="#222" style="stroke:#222;stroke-width:0.22px" textLength="63.5" lengthAdjust="spacingAndGlyphs">Colonies (per 1,000 cells)</text>
<line x1="393.60" y1="224.90" x2="393.60" y2="240.00" stroke="#111" stroke-width="1.2" />
<line x1="386.10" y1="224.90" x2="401.10" y2="224.90" stroke="#111" stroke-width="1.2" />
<line x1="386.10" y1="240.00" x2="401.10" y2="240.00" stroke="#111" stroke-width="1.2" />
<circle cx="393.60" cy="225.40" r="2.5" fill="#111" stroke="none" stroke-width="0.5" />
<circle cx="393.60" cy="231.20" r="2.5" fill="#111" stroke="none" stroke-width="0.5" />
<circle cx="393.60" cy="240.00" r="2.5" fill="#111" stroke="none" stroke-width="0.5" />
<line x1="429.00" y1="272.40" x2="444.00" y2="272.40" stroke="#111" stroke-width="1.2" />
<rect x="426.25" y="271.85" width="4.30" height="4.30" fill="#111" stroke="none" stroke-width="1" />
<rect x="434.25" y="269.15" width="4.30" height="4.30" fill="#111" stroke="none" stroke-width="1" />
<rect x="441.75" y="270.25" width="4.30" height="4.30" fill="#111" stroke="none" stroke-width="1" />
<line x1="478.80" y1="237.00" x2="478.80" y2="245.50" stroke="#111" stroke-width="1.2" />
<line x1="471.30" y1="237.00" x2="486.30" y2="237.00" stroke="#111" stroke-width="1.2" />
<line x1="471.30" y1="245.50" x2="486.30" y2="245.50" stroke="#111" stroke-width="1.2" />
<polygon points="478.80,234.15 476.30,238.90 481.30,238.90" fill="#111"/>
<polygon points="475.30,241.75 472.80,246.50 477.80,246.50" fill="#111"/>
<polygon points="482.60,241.05 480.10,245.80 485.10,245.80" fill="#111"/>
<text x="436.30" y="266.40" font-size="5.4" text-anchor="middle" font-weight="normal" font-style="normal" fill="#333" >***</text>
<text x="478.80" y="231.60" font-size="5.2" text-anchor="middle" font-weight="normal" font-style="normal" fill="#333" >n.s.</text>
<defs><linearGradient id="g1" x1="0" y1="0" x2="1" y2="1"><stop offset="0" stop-color="#d2d0d0"/><stop offset="1" stop-color="#c2c0c0"/></linearGradient><linearGradient id="g2" x1="0" y1="0" x2="1" y2="1"><stop offset="0" stop-color="#858585"/><stop offset="0.6" stop-color="#a8a8a8"/><stop offset="1" stop-color="#b8b8b8"/></linearGradient><linearGradient id="g3" x1="0" y1="0" x2="1" y2="1"><stop offset="0" stop-color="#9a9a9a"/><stop offset="1" stop-color="#a8a8a8"/></linearGradient></defs>
<rect x="374.80" y="179.80" width="38.80" height="38.40" fill="url(#g1)" stroke="#222" stroke-width="1.3" />
<rect x="416.80" y="179.80" width="38.80" height="38.40" fill="url(#g2)" stroke="#222" stroke-width="1.3" />
<rect x="459.00" y="179.80" width="38.80" height="38.40" fill="url(#g3)" stroke="#222" stroke-width="1.3" />
<circle cx="380.20" cy="192.80" r="0.7" fill="#666" stroke="none" stroke-width="0.5" filter="url(#b3)"/>
<circle cx="394.00" cy="196.50" r="0.7" fill="#666" stroke="none" stroke-width="0.5" filter="url(#b3)"/>
<circle cx="407.50" cy="204.30" r="1.3" fill="#222" stroke="none" stroke-width="0.5" filter="url(#b3)"/>
<circle cx="386.80" cy="211.70" r="0.9" fill="#444" stroke="none" stroke-width="0.5" filter="url(#b3)"/>
<rect x="408.20" y="215.00" width="3.00" height="1.00" fill="#111" stroke="none" stroke-width="1" />
<circle cx="482.30" cy="185.50" r="1.0" fill="#333" stroke="none" stroke-width="0.5" filter="url(#b3)"/>
<circle cx="471.30" cy="200.50" r="0.9" fill="#333" stroke="none" stroke-width="0.5" filter="url(#b3)"/>
<circle cx="467.30" cy="205.50" r="1.7" fill="#1a1a1a" stroke="none" stroke-width="0.5" filter="url(#b3)"/>
<circle cx="487.00" cy="201.00" r="0.5" fill="#555" stroke="none" stroke-width="0.5" filter="url(#b3)"/>
<circle cx="489.30" cy="214.30" r="1.4" fill="#222" stroke="none" stroke-width="0.5" filter="url(#b3)"/>
<circle cx="472.00" cy="203.00" r="0.6" fill="#444" stroke="none" stroke-width="0.5" filter="url(#b3)"/>
<rect x="48.50" y="423.98" width="7.00" height="43.22" fill="#c4c3c8" stroke="none" stroke-width="1" />
<rect x="60.60" y="444.27" width="7.00" height="22.93" fill="#33a737" stroke="none" stroke-width="1" />
<rect x="72.70" y="381.20" width="7.00" height="86.00" fill="#cb0c2f" stroke="none" stroke-width="1" />
<rect x="92.80" y="423.54" width="7.00" height="43.66" fill="#c4c3c8" stroke="none" stroke-width="1" />
<rect x="104.90" y="440.74" width="7.00" height="26.46" fill="#33a737" stroke="none" stroke-width="1" />
<rect x="117.00" y="419.57" width="7.00" height="47.63" fill="#cb0c2f" stroke="none" stroke-width="1" />
<rect x="137.40" y="423.54" width="7.00" height="43.66" fill="#c4c3c8" stroke="none" stroke-width="1" />
<rect x="149.50" y="462.35" width="7.00" height="4.85" fill="#33a737" stroke="none" stroke-width="1" />
<rect x="161.60" y="406.78" width="7.00" height="60.42" fill="#cb0c2f" stroke="none" stroke-width="1" />
<rect x="182.00" y="423.54" width="7.00" height="43.66" fill="#c4c3c8" stroke="none" stroke-width="1" />
<rect x="194.10" y="449.56" width="7.00" height="17.64" fill="#33a737" stroke="none" stroke-width="1" />
<rect x="206.20" y="411.63" width="7.00" height="55.57" fill="#cb0c2f" stroke="none" stroke-width="1" />
<line x1="43.70" y1="354.50" x2="43.70" y2="467.70" stroke="#222" stroke-width="1" />
<line x1="43.20" y1="467.20" x2="219.00" y2="467.20" stroke="#222" stroke-width="1.2" />
<line x1="41.00" y1="467.20" x2="43.70" y2="467.20" stroke="#222" stroke-width="0.8" />
<text x="38.40" y="469.40" font-size="6" text-anchor="end" font-weight="normal" font-style="normal" fill="#333" >0.0</text>
<line x1="41.00" y1="445.15" x2="43.70" y2="445.15" stroke="#222" stroke-width="0.8" />
<text x="38.40" y="447.35" font-size="6" text-anchor="end" font-weight="normal" font-style="normal" fill="#333" >0.5</text>
<line x1="41.00" y1="423.10" x2="43.70" y2="423.10" stroke="#222" stroke-width="0.8" />
<text x="38.40" y="425.30" font-size="6" text-anchor="end" font-weight="normal" font-style="normal" fill="#333" >1.0</text>
<line x1="41.00" y1="401.05" x2="43.70" y2="401.05" stroke="#222" stroke-width="0.8" />
<text x="38.40" y="403.25" font-size="6" text-anchor="end" font-weight="normal" font-style="normal" fill="#333" >1.5</text>
<line x1="41.00" y1="379.00" x2="43.70" y2="379.00" stroke="#222" stroke-width="0.8" />
<text x="38.40" y="381.20" font-size="6" text-anchor="end" font-weight="normal" font-style="normal" fill="#333" >2.0</text>
<line x1="41.00" y1="356.95" x2="43.70" y2="356.95" stroke="#222" stroke-width="0.8" />
<text x="38.40" y="359.15" font-size="6" text-anchor="end" font-weight="normal" font-style="normal" fill="#333" >2.5</text>
<line x1="64.10" y1="467.20" x2="64.10" y2="470.30" stroke="#222" stroke-width="1.0" />
<text x="64.10" y="478.30" font-size="5.8" text-anchor="middle" font-weight="normal" font-style="italic" fill="#333" >Hoxa1</text>
<line x1="108.40" y1="467.20" x2="108.40" y2="470.30" stroke="#222" stroke-width="1.0" />
<text x="108.40" y="478.30" font-size="5.8" text-anchor="middle" font-weight="normal" font-style="italic" fill="#333" >Id2</text>
<line x1="153.00" y1="467.20" x2="153.00" y2="470.30" stroke="#222" stroke-width="1.0" />
<text x="153.00" y="478.30" font-size="5.8" text-anchor="middle" font-weight="normal" font-style="italic" fill="#333" >Mpo</text>
<line x1="197.60" y1="467.20" x2="197.60" y2="470.30" stroke="#222" stroke-width="1.0" />
<text x="197.60" y="478.30" font-size="5.8" text-anchor="middle" font-weight="normal" font-style="italic" fill="#333" >Spry2</text>
<text x="0" y="0" transform="translate(23.30,410.90) rotate(-90)" font-size="8" text-anchor="middle" font-weight="normal" font-style="normal" fill="#222" style="stroke:#222;stroke-width:0.22px" textLength="64" lengthAdjust="spacingAndGlyphs">Relative mRNA expression</text>
<circle cx="52.00" cy="419.00" r="2.2" fill="#111" stroke="none" stroke-width="0.5" />
<circle cx="50.10" cy="424.30" r="2.2" fill="#111" stroke="none" stroke-width="0.5" />
<circle cx="53.90" cy="424.30" r="2.2" fill="#111" stroke="none" stroke-width="0.5" />
<line x1="64.20" y1="437.00" x2="64.20" y2="454.00" stroke="#111" stroke-width="1" />
<rect x="62.10" y="435.60" width="4.20" height="4.20" fill="#111" stroke="none" stroke-width="1" />
<rect x="62.10" y="441.50" width="4.20" height="4.20" fill="#111" stroke="none" stroke-width="1" />
<rect x="62.10" y="450.90" width="4.20" height="4.20" fill="#111" stroke="none" stroke-width="1" />
<line x1="76.20" y1="371.50" x2="76.20" y2="391.00" stroke="#111" stroke-width="1" />
<polygon points="76.20,369.38 73.90,373.75 78.50,373.75" fill="#111"/>
<polygon points="76.20,380.78 73.90,385.15 78.50,385.15" fill="#111"/>
<polygon points="76.20,387.38 73.90,391.75 78.50,391.75" fill="#111"/>
<text x="64.20" y="432.44" font-size="5.4" text-anchor="middle" font-weight="normal" font-style="normal" fill="#333" >*</text>
<text x="76.20" y="369.37" font-size="5.4" text-anchor="middle" font-weight="normal" font-style="normal" fill="#333" >**</text>
<circle cx="96.30" cy="421.34" r="2.2" fill="#111" stroke="none" stroke-width="0.5" />
<circle cx="94.40" cy="423.98" r="2.2" fill="#111" stroke="none" stroke-width="0.5" />
<circle cx="98.20" cy="423.98" r="2.2" fill="#111" stroke="none" stroke-width="0.5" />
<rect x="105.40" y="435.11" width="4.20" height="4.20" fill="#111" stroke="none" stroke-width="1" />
<rect x="108.10" y="438.64" width="4.20" height="4.20" fill="#111" stroke="none" stroke-width="1" />
<rect x="105.90" y="437.76" width="4.20" height="4.20" fill="#111" stroke="none" stroke-width="1" />
<polygon points="120.70,414.74 118.40,419.11 123.00,419.11" fill="#111"/>
<polygon points="119.00,417.39 116.70,421.76 121.30,421.76" fill="#111"/>
<polygon points="122.40,417.39 120.10,421.76 124.70,421.76" fill="#111"/>
<text x="108.50" y="433.32" font-size="5.4" text-anchor="middle" font-weight="normal" font-style="normal" fill="#333" >**</text>
<text x="120.70" y="414.36" font-size="5.4" text-anchor="middle" font-weight="normal" font-style="normal" fill="#333" >*</text>
<circle cx="140.90" cy="421.78" r="2.2" fill="#111" stroke="none" stroke-width="0.5" />
<circle cx="139.00" cy="423.98" r="2.2" fill="#111" stroke="none" stroke-width="0.5" />
<circle cx="142.80" cy="423.98" r="2.2" fill="#111" stroke="none" stroke-width="0.5" />
<rect x="150.90" y="460.69" width="4.20" height="4.20" fill="#111" stroke="none" stroke-width="1" />
<rect x="148.70" y="460.69" width="4.20" height="4.20" fill="#111" stroke="none" stroke-width="1" />
<rect x="153.10" y="460.69" width="4.20" height="4.20" fill="#111" stroke="none" stroke-width="1" />
<polygon points="165.00,401.96 162.70,406.33 167.30,406.33" fill="#111"/>
<polygon points="163.30,404.60 161.00,408.97 165.60,408.97" fill="#111"/>
<polygon points="166.70,404.60 164.40,408.97 169.00,408.97" fill="#111"/>
<text x="153.00" y="458.02" font-size="5.4" text-anchor="middle" font-weight="normal" font-style="normal" fill="#333" >***</text>
<text x="165.00" y="401.13" font-size="5.4" text-anchor="middle" font-weight="normal" font-style="normal" fill="#333" >**</text>
<circle cx="185.50" cy="421.78" r="2.2" fill="#111" stroke="none" stroke-width="0.5" />
<circle cx="183.60" cy="423.98" r="2.2" fill="#111" stroke="none" stroke-width="0.5" />
<circle cx="187.40" cy="423.98" r="2.2" fill="#111" stroke="none" stroke-width="0.5" />
<rect x="195.40" y="444.37" width="4.20" height="4.20" fill="#111" stroke="none" stroke-width="1" />
<rect x="193.90" y="447.46" width="4.20" height="4.20" fill="#111" stroke="none" stroke-width="1" />
<rect x="196.90" y="447.46" width="4.20" height="4.20" fill="#111" stroke="none" stroke-width="1" />
<line x1="209.70" y1="408.55" x2="209.70" y2="416.93" stroke="#111" stroke-width="1" />
<polygon points="208.50,407.25 206.20,411.62 210.80,411.62" fill="#111"/>
<polygon points="211.10,408.13 208.80,412.50 213.40,412.50" fill="#111"/>
<polygon points="210.50,412.98 208.20,417.35 212.80,417.35" fill="#111"/>
<text x="197.50" y="443.02" font-size="5.4" text-anchor="middle" font-weight="normal" font-style="normal" fill="#333" >***</text>
<text x="209.70" y="405.98" font-size="5.4" text-anchor="middle" font-weight="normal" font-style="normal" fill="#333" >*</text>
<rect x="183.30" y="357.50" width="5.50" height="5.50" fill="#c4c3c8" stroke="none" stroke-width="1" />
<text x="191.30" y="362.30" font-size="5.6" text-anchor="start" font-weight="normal" font-style="normal" fill="#333" >shCtrl</text>
<rect x="183.30" y="366.10" width="5.50" height="5.50" fill="#33a737" stroke="none" stroke-width="1" />
<text x="191.30" y="370.90" font-size="5.6" text-anchor="start" font-weight="normal" font-style="normal" fill="#333" >shEp300</text>
<rect x="183.30" y="374.70" width="5.50" height="5.50" fill="#cb0c2f" stroke="none" stroke-width="1" />
<text x="191.30" y="379.50" font-size="5.6" text-anchor="start" font-weight="normal" font-style="normal" fill="#333" >shCrebbp</text>
<rect x="298.80" y="395.56" width="7.90" height="71.64" fill="#c4c3c8" stroke="none" stroke-width="1" />
<rect x="311.50" y="454.44" width="7.90" height="12.76" fill="#33a737" stroke="none" stroke-width="1" />
<rect x="324.20" y="417.44" width="7.90" height="49.76" fill="#cb0c2f" stroke="none" stroke-width="1" />
<rect x="345.20" y="433.86" width="7.90" height="33.34" fill="#c4c3c8" stroke="none" stroke-width="1" />
<rect x="357.90" y="459.91" width="7.90" height="7.29" fill="#33a737" stroke="none" stroke-width="1" />
<rect x="370.60" y="452.35" width="7.90" height="14.85" fill="#cb0c2f" stroke="none" stroke-width="1" />
<rect x="391.60" y="393.74" width="7.90" height="73.46" fill="#c4c3c8" stroke="none" stroke-width="1" />
<rect x="404.30" y="455.48" width="7.90" height="11.72" fill="#33a737" stroke="none" stroke-width="1" />
<rect x="417.00" y="416.14" width="7.90" height="51.06" fill="#cb0c2f" stroke="none" stroke-width="1" />
<rect x="438.00" y="453.65" width="7.90" height="13.55" fill="#c4c3c8" stroke="none" stroke-width="1" />
<rect x="450.70" y="463.81" width="7.90" height="3.39" fill="#33a737" stroke="none" stroke-width="1" />
<rect x="463.40" y="450.01" width="7.90" height="17.19" fill="#cb0c2f" stroke="none" stroke-width="1" />
<line x1="293.30" y1="361.30" x2="293.30" y2="467.70" stroke="#222" stroke-width="1" />
<line x1="292.80" y1="467.20" x2="476.30" y2="467.20" stroke="#222" stroke-width="1.2" />
<line x1="290.50" y1="467.20" x2="293.30" y2="467.20" stroke="#222" stroke-width="0.8" />
<text x="288.20" y="469.40" font-size="6" text-anchor="end" font-weight="normal" font-style="normal" fill="#333" >0</text>
<line x1="290.50" y1="441.15" x2="293.30" y2="441.15" stroke="#222" stroke-width="0.8" />
<text x="288.20" y="443.35" font-size="6" text-anchor="end" font-weight="normal" font-style="normal" fill="#333" >1</text>
<line x1="290.50" y1="415.10" x2="293.30" y2="415.10" stroke="#222" stroke-width="0.8" />
<text x="288.20" y="417.30" font-size="6" text-anchor="end" font-weight="normal" font-style="normal" fill="#333" >2</text>
<line x1="290.50" y1="389.05" x2="293.30" y2="389.05" stroke="#222" stroke-width="0.8" />
<text x="288.20" y="391.25" font-size="6" text-anchor="end" font-weight="normal" font-style="normal" fill="#333" >3</text>
<line x1="290.50" y1="363.00" x2="293.30" y2="363.00" stroke="#222" stroke-width="0.8" />
<text x="288.20" y="365.20" font-size="6" text-anchor="end" font-weight="normal" font-style="normal" fill="#333" >4</text>
<line x1="315.45" y1="467.20" x2="315.45" y2="470.30" stroke="#222" stroke-width="1.0" />
<text x="315.45" y="478.20" font-size="6.0" text-anchor="middle" font-weight="normal" font-style="normal" fill="#333" >enh1</text>
<line x1="361.85" y1="467.20" x2="361.85" y2="470.30" stroke="#222" stroke-width="1.0" />
<text x="361.85" y="478.20" font-size="6.0" text-anchor="middle" font-weight="normal" font-style="normal" fill="#333" >enh2</text>
<line x1="408.25" y1="467.20" x2="408.25" y2="470.30" stroke="#222" stroke-width="1.0" />
<text x="408.25" y="478.20" font-size="6.0" text-anchor="middle" font-weight="normal" font-style="normal" fill="#333" >enh4</text>
<line x1="454.65" y1="467.20" x2="454.65" y2="470.30" stroke="#222" stroke-width="1.0" />
<text x="454.65" y="478.20" font-size="6.0" text-anchor="middle" font-weight="normal" font-style="normal" fill="#333" >enh5</text>
<text x="0" y="0" transform="translate(279.60,414.70) rotate(-90)" font-size="8" text-anchor="middle" font-weight="normal" font-style="normal" fill="#222" style="stroke:#222;stroke-width:0.22px" textLength="19.4" lengthAdjust="spacingAndGlyphs">% Input</text>
<text x="301.30" y="369.80" font-size="6.6" text-anchor="start" font-weight="normal" font-style="normal" fill="#222" >H3K27ac</text>
<line x1="302.60" y1="385.92" x2="302.60" y2="395.56" stroke="#111" stroke-width="1" />
<circle cx="302.60" cy="386.00" r="2.2" fill="#111" stroke="none" stroke-width="0.5" />
<circle cx="300.10" cy="394.00" r="2.2" fill="#111" stroke="none" stroke-width="0.5" />
<circle cx="305.20" cy="392.00" r="2.2" fill="#111" stroke="none" stroke-width="0.5" />
<rect x="313.80" y="450.87" width="4.00" height="4.00" fill="#111" stroke="none" stroke-width="1" />
<rect x="311.30" y="452.70" width="4.00" height="4.00" fill="#111" stroke="none" stroke-width="1" />
<rect x="316.00" y="452.18" width="4.00" height="4.00" fill="#111" stroke="none" stroke-width="1" />
<line x1="328.00" y1="409.89" x2="328.00" y2="422.91" stroke="#111" stroke-width="1" />
<circle cx="328.00" cy="410.67" r="2.2" fill="#111" stroke="none" stroke-width="0.5" />
<circle cx="328.70" cy="417.70" r="2.2" fill="#111" stroke="none" stroke-width="0.5" />
<circle cx="328.00" cy="420.83" r="2.2" fill="#111" stroke="none" stroke-width="0.5" />
<text x="315.30" y="450.36" font-size="5.4" text-anchor="middle" font-weight="normal" font-style="normal" fill="#333" >***</text>
<text x="328.00" y="408.16" font-size="5.4" text-anchor="middle" font-weight="normal" font-style="normal" fill="#333" >**</text>
<circle cx="349.00" cy="435.94" r="2.2" fill="#111" stroke="none" stroke-width="0.5" />
<circle cx="346.30" cy="432.55" r="2.2" fill="#111" stroke="none" stroke-width="0.5" />
<circle cx="351.70" cy="432.55" r="2.2" fill="#111" stroke="none" stroke-width="0.5" />
<rect x="360.20" y="456.08" width="4.00" height="4.00" fill="#111" stroke="none" stroke-width="1" />
<rect x="357.70" y="458.17" width="4.00" height="4.00" fill="#111" stroke="none" stroke-width="1" />
<rect x="362.40" y="457.38" width="4.00" height="4.00" fill="#111" stroke="none" stroke-width="1" />
<circle cx="372.90" cy="449.75" r="2.2" fill="#111" stroke="none" stroke-width="0.5" />
<circle cx="373.40" cy="452.87" r="2.2" fill="#111" stroke="none" stroke-width="0.5" />
<circle cx="377.60" cy="451.57" r="2.2" fill="#111" stroke="none" stroke-width="0.5" />
<text x="361.70" y="455.05" font-size="5.4" text-anchor="middle" font-weight="normal" font-style="normal" fill="#333" >***</text>
<text x="374.40" y="447.24" font-size="5.4" text-anchor="middle" font-weight="normal" font-style="normal" fill="#333" >***</text>
<line x1="395.40" y1="385.92" x2="395.40" y2="396.87" stroke="#111" stroke-width="1" />
<circle cx="395.40" cy="385.50" r="2.2" fill="#111" stroke="none" stroke-width="0.5" />
<circle cx="395.40" cy="392.80" r="2.2" fill="#111" stroke="none" stroke-width="0.5" />
<circle cx="395.40" cy="397.60" r="2.2" fill="#111" stroke="none" stroke-width="0.5" />
<line x1="408.10" y1="447.66" x2="408.10" y2="456.78" stroke="#111" stroke-width="1" />
<rect x="406.10" y="446.44" width="4.00" height="4.00" fill="#111" stroke="none" stroke-width="1" />
<rect x="404.10" y="453.48" width="4.00" height="4.00" fill="#111" stroke="none" stroke-width="1" />
<rect x="408.80" y="452.96" width="4.00" height="4.00" fill="#111" stroke="none" stroke-width="1" />
<line x1="420.80" y1="407.28" x2="420.80" y2="417.70" stroke="#111" stroke-width="1" />
<circle cx="420.80" cy="407.55" r="2.2" fill="#111" stroke="none" stroke-width="0.5" />
<circle cx="418.30" cy="416.40" r="2.2" fill="#111" stroke="none" stroke-width="0.5" />
<circle cx="423.50" cy="415.62" r="2.2" fill="#111" stroke="none" stroke-width="0.5" />
<text x="408.10" y="445.15" font-size="5.4" text-anchor="middle" font-weight="normal" font-style="normal" fill="#333" >***</text>
<text x="420.80" y="404.78" font-size="5.4" text-anchor="middle" font-weight="normal" font-style="normal" fill="#333" >*</text>
<circle cx="441.80" cy="452.09" r="2.2" fill="#111" stroke="none" stroke-width="0.5" />
<circle cx="439.10" cy="454.18" r="2.2" fill="#111" stroke="none" stroke-width="0.5" />
<circle cx="444.50" cy="454.18" r="2.2" fill="#111" stroke="none" stroke-width="0.5" />
<rect x="452.50" y="461.29" width="4.00" height="4.00" fill="#111" stroke="none" stroke-width="1" />
<rect x="450.00" y="462.07" width="4.00" height="4.00" fill="#111" stroke="none" stroke-width="1" />
<rect x="455.20" y="462.07" width="4.00" height="4.00" fill="#111" stroke="none" stroke-width="1" />
<circle cx="467.20" cy="447.40" r="2.2" fill="#111" stroke="none" stroke-width="0.5" />
<circle cx="464.50" cy="450.79" r="2.2" fill="#111" stroke="none" stroke-width="0.5" />
<circle cx="469.90" cy="449.49" r="2.2" fill="#111" stroke="none" stroke-width="0.5" />
<text x="454.50" y="460.78" font-size="5.4" text-anchor="middle" font-weight="normal" font-style="normal" fill="#333" >**</text>
<text x="467.20" y="444.63" font-size="5.4" text-anchor="middle" font-weight="normal" font-style="normal" fill="#333" >*</text>
<rect x="441.30" y="363.40" width="5.70" height="5.70" fill="#c4c3c8" stroke="none" stroke-width="1" />
<text x="449.50" y="368.30" font-size="5.6" text-anchor="start" font-weight="normal" font-style="normal" fill="#333" >shCtrl</text>
<rect x="441.30" y="372.40" width="5.70" height="5.70" fill="#33a737" stroke="none" stroke-width="1" />
<text x="449.50" y="377.30" font-size="5.6" text-anchor="start" font-weight="normal" font-style="normal" fill="#333" >shEp300</text>
<rect x="441.30" y="381.40" width="5.70" height="5.70" fill="#cb0c2f" stroke="none" stroke-width="1" />
<text x="449.50" y="386.30" font-size="5.6" text-anchor="start" font-weight="normal" font-style="normal" fill="#333" >shCrebbp</text>
<rect x="0.00" y="0.00" width="520.00" height="0.90" fill="#555" stroke="none" stroke-width="1" />
<rect x="0.00" y="0.00" width="1.00" height="486.00" fill="#444" stroke="none" stroke-width="1" />
<rect x="518.30" y="0.00" width="1.70" height="486.00" fill="#555" stroke="none" stroke-width="1" />
<rect x="0.00" y="484.30" width="520.00" height="1.70" fill="#555" stroke="none" stroke-width="1" />
</svg>
</body></html>
